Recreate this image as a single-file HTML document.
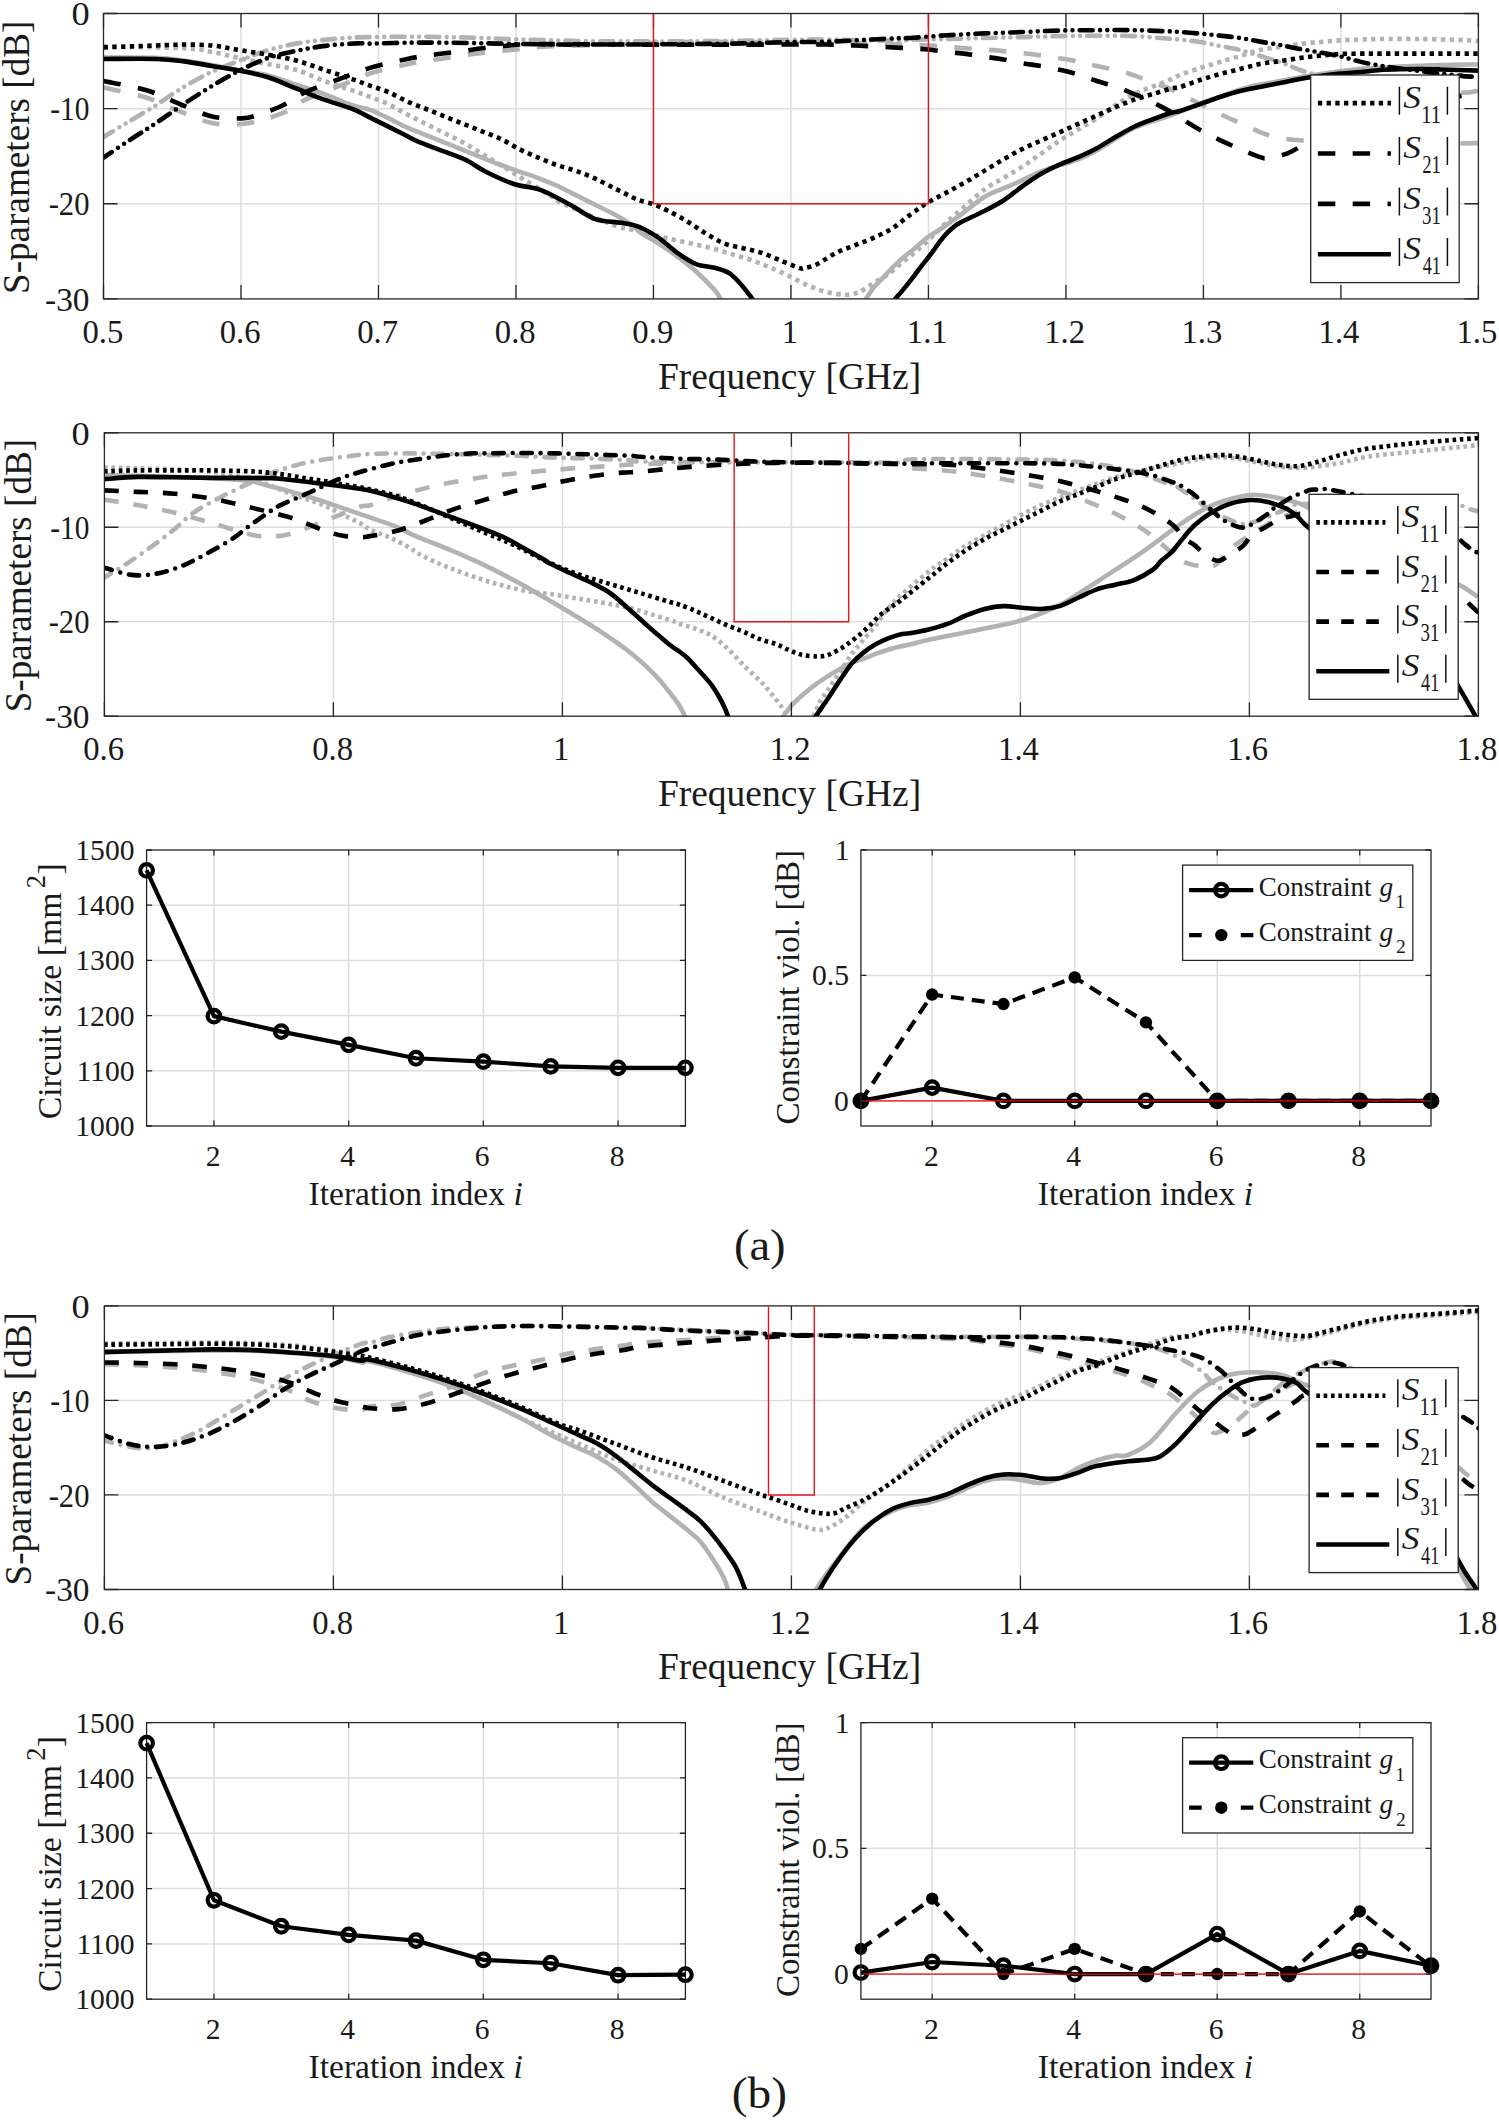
<!DOCTYPE html><html><head><meta charset="utf-8"><style>html,body{margin:0;padding:0;background:#fff;width:1499px;height:2120px;overflow:hidden}text{font-family:'Liberation Serif', serif}</style></head><body><svg width="1499" height="2120" viewBox="0 0 1499 2120" style="position:absolute;left:0;top:0;font-family:'Liberation Serif', serif">
<rect width="1499" height="2120" fill="#fff"/>
<defs>
<clipPath id="cp1"><rect x="103.5" y="13.5" width="1374.9" height="285.4"/></clipPath>
<clipPath id="cp2"><rect x="104.4" y="432.8" width="1374.0" height="283.40000000000003"/></clipPath>
<clipPath id="cp3"><rect x="146.6" y="850.0" width="538.8" height="276.0"/></clipPath>
<clipPath id="cp4"><rect x="860.9" y="850.0" width="570.1" height="276.0"/></clipPath>
<clipPath id="cp5"><rect x="104.4" y="1305.9" width="1374.0" height="283.5999999999999"/></clipPath>
<clipPath id="cp6"><rect x="146.6" y="1722.6" width="538.8" height="276.60000000000014"/></clipPath>
<clipPath id="cp7"><rect x="860.9" y="1722.6" width="570.1" height="276.60000000000014"/></clipPath>
</defs>
<path d="M240.99,13.50V298.90M378.48,13.50V298.90M515.97,13.50V298.90M653.46,13.50V298.90M790.95,13.50V298.90M928.44,13.50V298.90M1065.93,13.50V298.90M1203.42,13.50V298.90M1340.91,13.50V298.90M103.50,203.77H1478.40M103.50,108.63H1478.40" stroke="#dddddd" stroke-width="1.5" fill="none"/>
<path d="M103.74,57.63C112.45,57.66 142.65,57.35 156.03,57.81C169.42,58.28 174.71,59.22 184.05,60.43C193.39,61.64 202.73,63.39 212.07,65.10C221.40,66.81 230.74,68.99 240.08,70.70C249.42,72.41 258.76,73.04 268.10,75.37C277.44,77.71 286.78,81.60 296.12,84.71C305.45,87.82 314.79,90.63 324.13,94.05C333.47,97.47 344.50,102.61 352.15,105.26C359.79,107.90 363.91,107.75 370.00,109.93C376.09,112.10 382.45,115.37 388.68,118.33C394.90,121.29 401.13,124.87 407.36,127.67C413.58,130.47 419.81,132.65 426.03,135.14C432.26,137.63 438.48,140.12 444.71,142.61C450.94,145.10 457.16,147.59 463.39,150.08C469.61,152.57 475.84,155.06 482.07,157.55C488.29,160.04 494.52,162.69 500.74,165.02C506.97,167.36 513.20,169.38 519.42,171.56C525.65,173.74 531.87,175.76 538.10,178.10C544.32,180.43 550.55,182.77 556.78,185.57C563.00,188.37 569.23,191.80 575.45,194.91C581.68,198.02 587.91,201.13 594.13,204.25C600.36,207.36 606.58,210.16 612.81,213.59C619.03,217.01 626.95,221.68 631.49,224.79C636.02,227.91 635.47,229.15 640.00,232.26C644.53,235.38 652.45,239.42 658.68,243.47C664.90,247.52 671.13,251.88 677.36,256.54C683.58,261.21 689.81,265.88 696.03,271.49C702.26,277.09 710.66,285.65 714.71,290.16C718.76,294.68 718.45,295.46 720.31,298.57C722.18,301.68 724.98,307.13 725.92,308.84" stroke="#b2b2b2" stroke-width="4.6" fill="none" stroke-linecap="butt" stroke-linejoin="round" clip-path="url(#cp1)"/>
<path d="M856.66,308.84C858.22,307.15 863.23,302.17 866.00,298.70C868.77,295.23 870.42,291.55 873.30,288.00C876.18,284.45 879.95,280.95 883.30,277.40C886.65,273.85 890.05,270.03 893.40,266.70C896.75,263.37 900.07,260.28 903.40,257.40C906.73,254.52 909.52,252.63 913.40,249.40C917.28,246.17 922.27,241.33 926.70,238.00C931.13,234.67 935.55,232.40 940.00,229.40C944.45,226.40 950.07,222.35 953.40,220.00C956.73,217.65 954.78,219.17 960.00,215.30C965.22,211.43 977.48,201.26 984.71,196.78C991.94,192.29 997.16,191.11 1003.39,188.37C1009.61,185.63 1015.84,183.14 1022.07,180.34C1028.29,177.54 1034.52,174.05 1040.74,171.56C1046.97,169.07 1053.20,167.42 1059.42,165.40C1065.65,163.37 1071.87,161.91 1078.10,159.42C1084.32,156.93 1087.44,155.69 1096.78,150.46C1106.12,145.23 1121.68,133.96 1134.13,128.04C1146.58,122.13 1153.84,121.37 1171.49,114.97C1189.14,108.57 1221.94,95.30 1240.04,89.65C1258.13,83.99 1266.72,83.64 1280.06,81.04C1293.40,78.44 1306.74,76.04 1320.08,74.04C1333.43,72.04 1346.77,70.27 1360.11,69.04C1373.45,67.80 1386.79,67.30 1400.13,66.63C1413.47,65.97 1426.98,65.40 1440.16,65.03C1453.33,64.67 1472.68,64.53 1479.18,64.43" stroke="#b2b2b2" stroke-width="4.6" fill="none" stroke-linecap="butt" stroke-linejoin="round" clip-path="url(#cp1)"/>
<path d="M101.87,137.94C106.23,135.30 118.99,127.51 128.02,122.07C137.04,116.62 147.63,110.55 156.03,105.26C164.44,99.96 169.73,95.61 178.45,90.31C187.16,85.02 198.06,78.48 208.33,73.50C218.60,68.52 230.12,64.32 240.08,60.43C250.04,56.54 258.76,52.96 268.10,50.16C277.44,47.36 286.78,45.33 296.12,43.62C305.45,41.91 314.79,40.88 324.13,39.88C333.47,38.89 344.50,38.11 352.15,37.64C359.79,37.18 360.80,37.24 370.00,37.08C379.20,36.93 394.90,36.71 407.36,36.71C419.81,36.71 432.26,36.86 444.71,37.08C457.16,37.30 469.61,37.61 482.07,38.02C494.52,38.42 506.97,39.11 519.42,39.51C531.87,39.92 544.32,40.16 556.78,40.44C569.23,40.72 581.68,41.04 594.13,41.19C606.58,41.35 617.62,41.35 631.49,41.38C645.36,41.41 660.37,41.47 677.36,41.38C694.34,41.29 714.71,41.07 733.39,40.82C752.07,40.57 773.86,40.10 789.42,39.88C804.99,39.67 814.32,39.45 826.78,39.51C839.23,39.57 851.68,40.04 864.13,40.26C876.58,40.48 893.84,40.88 901.49,40.82C909.13,40.76 902.36,40.20 910.00,39.88C917.64,39.57 934.90,39.26 947.36,38.95C959.81,38.64 972.26,38.33 984.71,38.02C997.16,37.71 1009.61,37.39 1022.07,37.08C1034.52,36.77 1046.97,36.37 1059.42,36.15C1071.87,35.93 1084.32,35.78 1096.78,35.78C1109.23,35.78 1121.68,35.62 1134.13,36.15C1146.58,36.68 1163.84,38.37 1171.49,38.95C1179.13,39.53 1175.25,39.11 1180.00,39.62C1184.75,40.13 1193.34,40.95 1200.01,42.02C1206.68,43.09 1213.35,44.69 1220.02,46.02C1226.69,47.36 1233.37,48.36 1240.04,50.02C1246.71,51.69 1253.38,54.03 1260.05,56.03C1266.72,58.03 1273.39,59.70 1280.06,62.03C1286.73,64.37 1293.40,67.70 1300.07,70.04C1306.74,72.37 1313.41,74.04 1320.08,76.04C1326.75,78.04 1333.43,80.21 1340.10,82.04C1346.77,83.88 1353.44,85.71 1360.11,87.05C1366.78,88.38 1373.45,89.21 1380.12,90.05C1386.79,90.88 1386.53,91.62 1400.13,92.05C1413.74,92.48 1448.70,92.85 1461.75,92.62C1474.79,92.38 1475.63,90.97 1478.41,90.63" stroke="#b2b2b2" stroke-width="4.6" fill="none" stroke-linecap="round" stroke-linejoin="round" stroke-dasharray="13.00 7.40 0.00 7.20 0.00 7.20" clip-path="url(#cp1)"/>
<path d="M103.74,87.51C110.90,89.22 134.24,93.89 146.69,97.78C159.15,101.68 167.55,106.66 178.45,110.86C189.34,115.06 201.48,120.82 212.07,123.00C222.65,125.18 232.61,124.71 241.95,123.93C251.29,123.16 259.07,121.13 268.10,118.33C277.13,115.53 289.89,110.24 296.12,107.12C302.34,104.01 297.67,103.39 305.45,99.65C313.24,95.92 332.05,89.07 342.81,84.71C353.57,80.35 359.24,76.93 370.00,73.50C380.76,70.08 394.90,66.72 407.36,64.17C419.81,61.61 432.26,60.06 444.71,58.19C457.16,56.32 469.61,54.45 482.07,52.96C494.52,51.46 508.53,50.31 519.42,49.22C530.32,48.13 534.99,47.11 547.44,46.42C559.89,45.74 580.12,45.58 594.13,45.11C608.14,44.65 617.62,44.12 631.49,43.62C645.36,43.12 660.37,42.44 677.36,42.13C694.34,41.81 714.71,41.66 733.39,41.75C752.07,41.85 773.86,42.37 789.42,42.69C804.99,43.00 814.32,43.53 826.78,43.62C839.23,43.71 851.68,43.09 864.13,43.25C876.58,43.40 890.73,44.18 901.49,44.55C912.24,44.93 917.92,44.86 928.68,45.49C939.44,46.11 953.58,47.36 966.03,48.29C978.48,49.22 990.94,49.91 1003.39,51.09C1015.84,52.27 1028.29,53.67 1040.74,55.39C1053.20,57.10 1068.76,59.59 1078.10,61.36C1087.44,63.14 1090.55,64.63 1096.78,66.03C1103.00,67.43 1109.23,68.21 1115.45,69.77C1121.68,71.32 1127.91,73.19 1134.13,75.37C1140.36,77.55 1146.58,80.51 1152.81,82.84C1159.03,85.18 1163.62,85.84 1171.49,89.38C1179.35,92.92 1191.92,99.94 1200.01,104.06C1208.10,108.17 1213.35,110.89 1220.02,114.06C1226.69,117.23 1233.37,120.07 1240.04,123.07C1246.71,126.07 1254.04,129.74 1260.05,132.07C1266.05,134.41 1270.05,135.74 1276.06,137.08C1282.06,138.41 1288.73,139.41 1296.07,140.08C1303.41,140.75 1309.41,140.75 1320.08,141.08C1330.76,141.41 1346.77,141.75 1360.11,142.08C1373.45,142.41 1386.79,142.81 1400.13,143.08C1413.47,143.35 1426.98,143.68 1440.16,143.68C1453.33,143.68 1472.68,143.18 1479.18,143.08" stroke="#b2b2b2" stroke-width="4.6" fill="none" stroke-linecap="butt" stroke-linejoin="round" stroke-dasharray="17.40 17.40" clip-path="url(#cp1)"/>
<path d="M103.74,46.42C117.12,46.73 165.99,47.36 184.05,48.29C202.10,49.22 202.73,50.37 212.07,52.02C221.40,53.67 230.74,56.16 240.08,58.19C249.42,60.21 258.76,62.24 268.10,64.17C277.44,66.10 286.78,66.97 296.12,69.77C305.45,72.57 314.79,77.55 324.13,80.97C333.47,84.40 344.50,87.67 352.15,90.31C359.79,92.96 363.91,94.52 370.00,96.85C376.09,99.19 382.45,101.36 388.68,104.32C394.90,107.28 401.13,111.33 407.36,114.59C413.58,117.86 419.81,120.82 426.03,123.93C432.26,127.05 438.48,130.16 444.71,133.27C450.94,136.39 457.16,139.19 463.39,142.61C469.61,146.04 475.84,150.08 482.07,153.82C488.29,157.55 493.89,160.82 500.74,165.02C507.59,169.23 515.06,174.05 523.16,179.03C531.25,184.01 542.46,190.71 549.31,194.91C556.15,199.11 553.66,199.27 564.25,204.25C574.83,209.23 601.60,220.59 612.81,224.79C624.02,229.00 623.84,227.59 631.49,229.46C639.13,231.33 651.03,234.13 658.68,236.00C666.32,237.87 671.13,239.27 677.36,240.67C683.58,242.07 689.81,243.00 696.03,244.40C702.26,245.81 708.48,247.36 714.71,249.07C720.94,250.79 727.16,252.81 733.39,254.68C739.61,256.54 745.84,258.10 752.07,260.28C758.29,262.46 764.52,265.11 770.74,267.75C776.97,270.40 783.20,273.20 789.42,276.16C795.65,279.11 801.87,282.85 808.10,285.49C814.32,288.14 820.55,290.48 826.78,292.03C833.00,293.59 840.47,294.68 845.45,294.83C850.43,294.99 854.24,293.44 856.66,292.97C859.08,292.49 858.11,293.04 860.00,292.00C861.89,290.96 865.45,288.37 868.00,286.70C870.55,285.03 871.73,284.22 875.30,282.00C878.87,279.78 884.83,276.73 889.40,273.40C893.97,270.07 898.27,265.67 902.70,262.00C907.13,258.33 911.55,255.17 916.00,251.40C920.45,247.63 924.28,244.30 929.40,239.40C934.52,234.50 942.48,226.02 946.70,222.00C950.92,217.98 948.36,220.75 954.70,215.30C961.04,209.85 976.60,195.51 984.71,189.31C992.83,183.10 997.16,181.83 1003.39,178.10C1009.61,174.36 1015.84,170.94 1022.07,166.89C1028.29,162.85 1034.52,158.18 1040.74,153.82C1046.97,149.46 1053.20,144.79 1059.42,140.74C1065.65,136.70 1071.87,133.27 1078.10,129.54C1084.32,125.80 1090.55,122.38 1096.78,118.33C1103.00,114.28 1109.23,109.30 1115.45,105.26C1121.68,101.21 1127.91,97.16 1134.13,94.05C1140.36,90.94 1146.58,89.07 1152.81,86.58C1159.03,84.09 1166.95,81.03 1171.49,79.11C1176.02,77.18 1175.25,76.88 1180.00,75.04C1184.75,73.19 1193.34,70.20 1200.01,68.03C1206.68,65.87 1213.35,64.03 1220.02,62.03C1226.69,60.03 1233.37,58.03 1240.04,56.03C1246.71,54.03 1253.38,51.52 1260.05,50.02C1266.72,48.52 1273.39,48.02 1280.06,47.02C1286.73,46.02 1293.40,44.85 1300.07,44.02C1306.74,43.19 1313.41,42.62 1320.08,42.02C1326.75,41.42 1333.43,40.82 1340.10,40.42C1346.77,40.02 1353.44,39.85 1360.11,39.62C1366.78,39.38 1370.11,39.12 1380.12,39.02C1390.13,38.92 1406.80,38.85 1420.14,39.02C1433.49,39.18 1450.33,39.68 1460.17,40.02C1470.01,40.35 1476.01,40.85 1479.18,41.02" stroke="#b2b2b2" stroke-width="4.6" fill="none" stroke-linecap="butt" stroke-linejoin="round" stroke-dasharray="4.30 4.40" clip-path="url(#cp1)"/>
<path d="M103.74,58.94C112.45,58.94 142.65,58.53 156.03,58.94C169.42,59.34 174.71,60.18 184.05,61.36C193.39,62.55 202.73,64.48 212.07,66.03C221.40,67.59 230.74,68.83 240.08,70.70C249.42,72.57 258.76,74.28 268.10,77.24C277.44,80.20 286.78,84.71 296.12,88.45C305.45,92.18 314.79,96.23 324.13,99.65C333.47,103.08 343.64,105.58 352.15,108.99C360.66,112.40 366.46,115.80 375.20,120.10C383.94,124.40 397.25,131.13 404.60,134.80C411.95,138.47 411.97,139.05 419.30,142.10C426.63,145.15 440.65,150.03 448.60,153.10C456.55,156.17 460.88,157.43 467.00,160.50C473.12,163.57 477.35,167.53 485.30,171.50C493.25,175.47 505.52,181.25 514.70,184.30C523.88,187.35 531.23,186.43 540.40,189.80C549.57,193.17 560.53,199.60 569.70,204.50C578.87,209.40 586.83,216.15 595.40,219.20C603.97,222.25 613.72,221.49 621.10,222.80C628.48,224.11 633.44,224.54 639.70,227.05C645.96,229.56 652.40,233.57 658.68,237.87C664.95,242.16 671.13,248.45 677.36,252.81C683.58,257.17 689.81,261.53 696.03,264.02C702.26,266.51 709.11,266.19 714.71,267.75C720.31,269.31 724.98,270.24 729.65,273.35C734.32,276.47 738.99,282.23 742.73,286.43C746.46,290.63 749.26,294.83 752.07,298.57C754.87,302.30 758.29,307.13 759.54,308.84" stroke="#000000" stroke-width="4.6" fill="none" stroke-linecap="butt" stroke-linejoin="round" clip-path="url(#cp1)"/>
<path d="M886.54,308.84C888.12,307.03 893.19,301.24 896.00,298.00C898.81,294.76 900.73,292.62 903.40,289.40C906.07,286.18 909.23,282.27 912.00,278.70C914.77,275.13 917.55,271.22 920.00,268.00C922.45,264.78 924.47,262.28 926.70,259.40C928.93,256.52 931.18,253.70 933.40,250.70C935.62,247.70 937.78,244.28 940.00,241.40C942.22,238.52 944.47,235.73 946.70,233.40C948.93,231.07 951.18,229.18 953.40,227.40C955.62,225.62 954.78,225.47 960.00,222.70C965.22,219.93 977.48,214.48 984.71,210.78C991.94,207.09 997.16,204.56 1003.39,200.51C1009.61,196.46 1015.84,190.92 1022.07,186.50C1028.29,182.08 1034.52,177.63 1040.74,173.99C1046.97,170.35 1053.20,167.45 1059.42,164.65C1065.65,161.85 1071.87,159.92 1078.10,157.18C1084.32,154.44 1090.55,151.58 1096.78,148.21C1103.00,144.85 1109.23,140.59 1115.45,137.01C1121.68,133.43 1127.91,129.69 1134.13,126.74C1140.36,123.78 1146.58,121.60 1152.81,119.26C1159.03,116.93 1166.95,114.09 1171.49,112.73C1176.02,111.36 1175.25,112.51 1180.00,111.06C1184.75,109.62 1193.34,106.39 1200.01,104.06C1206.68,101.72 1213.35,99.22 1220.02,97.05C1226.69,94.88 1233.37,92.72 1240.04,91.05C1246.71,89.38 1253.38,88.38 1260.05,87.05C1266.72,85.71 1273.39,84.38 1280.06,83.04C1286.73,81.71 1293.40,80.21 1300.07,79.04C1306.74,77.87 1313.41,76.94 1320.08,76.04C1326.75,75.14 1333.43,74.31 1340.10,73.64C1346.77,72.97 1353.44,72.64 1360.11,72.04C1366.78,71.44 1373.45,70.50 1380.12,70.04C1386.79,69.57 1393.46,69.40 1400.13,69.24C1406.80,69.07 1413.47,69.00 1420.14,69.04C1426.81,69.07 1430.32,69.17 1440.16,69.44C1450.00,69.70 1472.68,70.44 1479.18,70.64" stroke="#000000" stroke-width="4.6" fill="none" stroke-linecap="butt" stroke-linejoin="round" clip-path="url(#cp1)"/>
<path d="M101.00,159.20C105.73,156.05 120.40,146.20 129.40,140.30C138.40,134.40 146.45,129.50 155.00,123.80C163.55,118.10 171.52,112.22 180.70,106.10C189.88,99.98 200.32,93.02 210.10,87.10C219.88,81.18 229.62,75.50 239.40,70.60C249.18,65.70 259.00,61.07 268.80,57.70C278.60,54.33 288.42,52.42 298.20,50.40C307.98,48.38 317.72,46.77 327.50,45.60C337.28,44.43 349.82,43.73 356.90,43.40C363.98,43.07 361.59,43.74 370.00,43.62C378.41,43.50 394.90,42.84 407.36,42.69C419.81,42.53 432.26,42.59 444.71,42.69C457.16,42.78 469.61,43.03 482.07,43.25C494.52,43.46 506.97,43.78 519.42,43.99C531.87,44.21 544.32,44.46 556.78,44.55C569.23,44.65 581.68,44.55 594.13,44.55C606.58,44.55 617.62,44.62 631.49,44.55C645.36,44.49 660.37,44.34 677.36,44.18C694.34,44.02 714.71,43.96 733.39,43.62C752.07,43.28 773.86,42.44 789.42,42.13C804.99,41.81 814.32,42.13 826.78,41.75C839.23,41.38 851.68,40.51 864.13,39.88C876.58,39.26 893.84,38.33 901.49,38.02C909.13,37.71 902.36,38.48 910.00,38.02C917.64,37.55 934.90,35.99 947.36,35.21C959.81,34.44 972.26,33.88 984.71,33.35C997.16,32.82 1009.61,32.51 1022.07,32.04C1034.52,31.57 1046.97,30.86 1059.42,30.55C1071.87,30.23 1084.32,30.23 1096.78,30.17C1109.23,30.11 1121.68,29.95 1134.13,30.17C1146.58,30.39 1163.84,31.17 1171.49,31.48C1179.13,31.79 1175.25,31.66 1180.00,32.01C1184.75,32.37 1193.34,33.01 1200.01,33.61C1206.68,34.21 1213.35,34.88 1220.02,35.62C1226.69,36.35 1233.37,37.02 1240.04,38.02C1246.71,39.02 1253.38,40.45 1260.05,41.62C1266.72,42.79 1273.39,43.79 1280.06,45.02C1286.73,46.26 1293.40,47.79 1300.07,49.02C1306.74,50.26 1313.41,51.19 1320.08,52.43C1326.75,53.66 1333.43,54.89 1340.10,56.43C1346.77,57.96 1353.44,60.10 1360.11,61.63C1366.78,63.17 1373.45,64.50 1380.12,65.63C1386.79,66.77 1393.46,67.53 1400.13,68.44C1406.80,69.34 1413.47,70.17 1420.14,71.04C1426.81,71.90 1433.49,72.87 1440.16,73.64C1446.83,74.41 1456.11,75.19 1460.17,75.64C1464.23,76.09 1461.48,76.16 1464.52,76.35C1467.56,76.53 1476.10,76.68 1478.41,76.75" stroke="#000000" stroke-width="4.6" fill="none" stroke-linecap="round" stroke-linejoin="round" stroke-dasharray="13.00 7.40 0.00 7.20 0.00 7.20" clip-path="url(#cp1)"/>
<path d="M103.74,80.97C110.90,82.53 134.24,86.58 146.69,90.31C159.15,94.05 167.55,99.03 178.45,103.39C189.34,107.75 201.48,113.97 212.07,116.46C222.65,118.95 234.17,118.64 241.95,118.33C249.73,118.02 251.91,116.77 258.76,114.59C265.61,112.42 275.26,108.99 283.04,105.26C290.82,101.52 296.12,96.54 305.45,92.18C314.79,87.82 328.32,83.15 339.07,79.11C349.83,75.06 358.62,71.26 370.00,67.90C381.38,64.54 398.02,60.96 407.36,58.94C416.69,56.91 419.81,56.69 426.03,55.76C432.26,54.83 438.48,54.11 444.71,53.33C450.94,52.55 457.16,51.93 463.39,51.09C469.61,50.25 475.84,49.07 482.07,48.29C488.29,47.51 494.52,47.04 500.74,46.42C506.97,45.80 513.20,44.93 519.42,44.55C525.65,44.18 531.87,44.24 538.10,44.18C544.32,44.12 547.44,44.15 556.78,44.18C566.12,44.21 581.68,44.30 594.13,44.37C606.58,44.43 617.62,44.49 631.49,44.55C645.36,44.62 660.37,44.71 677.36,44.74C694.34,44.77 714.71,44.77 733.39,44.74C752.07,44.71 773.86,44.58 789.42,44.55C804.99,44.52 815.88,44.40 826.78,44.55C837.67,44.71 847.01,45.18 854.79,45.49C862.58,45.80 865.69,46.02 873.47,46.42C881.25,46.83 892.91,47.45 901.49,47.92C910.07,48.38 917.30,48.54 924.94,49.22C932.59,49.91 940.51,51.25 947.36,52.02C954.20,52.80 959.81,53.11 966.03,53.89C972.26,54.67 978.48,55.76 984.71,56.69C990.94,57.63 997.16,58.41 1003.39,59.50C1009.61,60.59 1015.84,62.14 1022.07,63.23C1028.29,64.32 1034.52,64.94 1040.74,66.03C1046.97,67.12 1053.20,68.37 1059.42,69.77C1065.65,71.17 1071.87,72.57 1078.10,74.44C1084.32,76.31 1090.55,78.95 1096.78,80.97C1103.00,83.00 1109.23,84.40 1115.45,86.58C1121.68,88.76 1129.46,92.18 1134.13,94.05C1138.80,95.92 1138.80,95.61 1143.47,97.78C1148.14,99.96 1156.86,104.32 1162.15,107.12C1167.44,109.93 1170.58,111.77 1175.22,114.59C1179.87,117.42 1185.21,121.16 1190.01,124.07C1194.80,126.98 1199.01,129.40 1204.01,132.07C1209.02,134.74 1214.02,137.24 1220.02,140.08C1226.03,142.91 1233.37,146.25 1240.04,149.08C1246.71,151.92 1255.38,155.59 1260.05,157.09C1264.72,158.59 1263.38,158.76 1268.05,158.09C1272.72,157.42 1282.06,155.42 1288.06,153.09C1294.07,150.75 1298.74,147.25 1304.07,144.08C1309.41,140.91 1314.08,137.41 1320.08,134.07C1326.09,130.74 1333.43,127.07 1340.10,124.07C1346.77,121.07 1353.44,118.40 1360.11,116.06C1366.78,113.73 1373.45,111.73 1380.12,110.06C1386.79,108.39 1393.46,107.06 1400.13,106.06C1406.80,105.06 1410.27,105.70 1420.14,104.06C1430.02,102.41 1451.11,97.77 1459.37,96.19C1467.62,94.61 1466.51,95.07 1469.68,94.60C1472.86,94.14 1476.96,93.61 1478.41,93.41" stroke="#000000" stroke-width="4.6" fill="none" stroke-linecap="butt" stroke-linejoin="round" stroke-dasharray="17.40 17.40" clip-path="url(#cp1)"/>
<path d="M103.74,47.36C112.45,47.04 142.65,45.95 156.03,45.49C169.42,45.02 174.71,44.55 184.05,44.55C193.39,44.55 203.66,44.71 212.07,45.49C220.47,46.27 225.14,47.67 234.48,49.22C243.82,50.78 257.83,52.96 268.10,54.83C278.37,56.69 286.78,57.94 296.12,60.43C305.45,62.92 314.79,66.66 324.13,69.77C333.47,72.88 344.50,76.46 352.15,79.11C359.79,81.75 363.91,83.47 370.00,85.64C376.09,87.82 382.45,89.54 388.68,92.18C394.90,94.83 401.13,98.72 407.36,101.52C413.58,104.32 419.81,106.50 426.03,108.99C432.26,111.48 438.48,113.97 444.71,116.46C450.94,118.95 457.16,121.44 463.39,123.93C469.61,126.42 475.84,128.91 482.07,131.40C488.29,133.89 494.52,135.92 500.74,138.88C506.97,141.83 513.20,146.04 519.42,149.15C525.65,152.26 531.87,154.91 538.10,157.55C544.32,160.20 550.55,162.85 556.78,165.02C563.00,167.20 569.23,168.45 575.45,170.63C581.68,172.81 587.91,175.30 594.13,178.10C600.36,180.90 606.58,184.32 612.81,187.44C619.03,190.55 626.95,194.60 631.49,196.78C636.02,198.96 636.34,199.27 640.00,200.51C643.66,201.76 648.78,202.54 653.45,204.25C658.12,205.96 662.48,207.98 668.02,210.78C673.56,213.59 680.47,217.32 686.69,221.06C692.92,224.79 699.15,229.46 705.37,233.20C711.60,236.93 717.82,240.98 724.05,243.47C730.28,245.96 736.50,246.58 742.73,248.14C748.95,249.70 755.18,250.79 761.40,252.81C767.63,254.83 773.86,257.79 780.08,260.28C786.31,262.77 794.71,266.44 798.76,267.75C802.81,269.06 801.25,268.75 804.36,268.12C807.48,267.50 812.15,266.57 817.44,264.02C822.73,261.46 829.89,255.92 836.12,252.81C842.34,249.70 848.57,247.83 854.79,245.34C861.02,242.85 867.24,240.67 873.47,237.87C879.70,235.07 885.99,232.42 892.15,228.53C898.31,224.64 904.39,218.88 910.41,214.52C916.44,210.16 922.15,206.12 928.30,202.38C934.46,198.64 941.07,195.53 947.36,192.11C953.64,188.68 959.81,185.41 966.03,181.83C972.26,178.25 978.48,174.36 984.71,170.63C990.94,166.89 997.16,163.00 1003.39,159.42C1009.61,155.84 1015.84,152.26 1022.07,149.15C1028.29,146.04 1034.52,143.55 1040.74,140.74C1046.97,137.94 1053.20,135.14 1059.42,132.34C1065.65,129.54 1071.87,126.74 1078.10,123.93C1084.32,121.13 1090.55,118.33 1096.78,115.53C1103.00,112.73 1109.23,109.77 1115.45,107.12C1121.68,104.48 1127.91,101.83 1134.13,99.65C1140.36,97.47 1146.58,95.92 1152.81,94.05C1159.03,92.18 1166.95,89.61 1171.49,88.45C1176.02,87.28 1175.25,88.45 1180.00,87.05C1184.75,85.65 1193.34,82.21 1200.01,80.04C1206.68,77.87 1213.35,75.87 1220.02,74.04C1226.69,72.20 1233.37,70.70 1240.04,69.04C1246.71,67.37 1253.38,65.37 1260.05,64.03C1266.72,62.70 1273.39,62.03 1280.06,61.03C1286.73,60.03 1293.40,58.93 1300.07,58.03C1306.74,57.13 1313.41,56.29 1320.08,55.63C1326.75,54.96 1333.43,54.36 1340.10,54.03C1346.77,53.69 1353.44,53.69 1360.11,53.63C1366.78,53.56 1370.11,53.63 1380.12,53.63C1390.13,53.63 1403.63,53.63 1420.14,53.63C1436.65,53.63 1469.34,53.63 1479.18,53.63" stroke="#000000" stroke-width="4.6" fill="none" stroke-linecap="butt" stroke-linejoin="round" stroke-dasharray="4.30 4.40" clip-path="url(#cp1)"/>
<path d="M103.50,298.90v-14M103.50,13.50v14M240.99,298.90v-14M240.99,13.50v14M378.48,298.90v-14M378.48,13.50v14M515.97,298.90v-14M515.97,13.50v14M653.46,298.90v-14M653.46,13.50v14M790.95,298.90v-14M790.95,13.50v14M928.44,298.90v-14M928.44,13.50v14M1065.93,298.90v-14M1065.93,13.50v14M1203.42,298.90v-14M1203.42,13.50v14M1340.91,298.90v-14M1340.91,13.50v14M1478.40,298.90v-14M1478.40,13.50v14M103.50,298.90h14M1478.40,298.90h-14M103.50,203.77h14M1478.40,203.77h-14M103.50,108.63h14M1478.40,108.63h-14M103.50,13.50h14M1478.40,13.50h-14" stroke="#262626" stroke-width="1.3" fill="none"/>
<rect x="103.50" y="13.50" width="1374.90" height="285.40" stroke="#262626" stroke-width="1.3" fill="none"/>
<path d="M653.46,14.20V203.77H928.44V14.20" stroke="#e8131b" stroke-width="1.4" fill="none"/>
<text x="45.05" y="310.60" font-size="34.6" style="" fill="#1a1a1a" textLength="44.52" lengthAdjust="spacingAndGlyphs">-30</text>
<text x="48.65" y="215.47" font-size="34.6" style="" fill="#1a1a1a" textLength="40.81" lengthAdjust="spacingAndGlyphs">-20</text>
<text x="50.20" y="120.33" font-size="34.6" style="" fill="#1a1a1a" textLength="39.22" lengthAdjust="spacingAndGlyphs">-10</text>
<text x="71.43" y="25.20" font-size="34.6" style="" fill="#1a1a1a" textLength="18.24" lengthAdjust="spacingAndGlyphs">0</text>
<text x="82.41" y="343.10" font-size="34.6" style="" fill="#1a1a1a" textLength="40.87" lengthAdjust="spacingAndGlyphs">0.5</text>
<text x="219.73" y="343.10" font-size="34.6" style="" fill="#1a1a1a" textLength="40.87" lengthAdjust="spacingAndGlyphs">0.6</text>
<text x="357.22" y="343.10" font-size="34.6" style="" fill="#1a1a1a" textLength="40.87" lengthAdjust="spacingAndGlyphs">0.7</text>
<text x="494.83" y="343.10" font-size="34.6" style="" fill="#1a1a1a" textLength="40.87" lengthAdjust="spacingAndGlyphs">0.8</text>
<text x="632.37" y="343.10" font-size="34.6" style="" fill="#1a1a1a" textLength="40.87" lengthAdjust="spacingAndGlyphs">0.9</text>
<text x="781.63" y="343.10" font-size="34.6" style="" fill="#1a1a1a" textLength="16.35" lengthAdjust="spacingAndGlyphs">1</text>
<text x="906.85" y="343.10" font-size="34.6" style="" fill="#1a1a1a" textLength="40.87" lengthAdjust="spacingAndGlyphs">1.1</text>
<text x="1044.26" y="343.10" font-size="34.6" style="" fill="#1a1a1a" textLength="40.87" lengthAdjust="spacingAndGlyphs">1.2</text>
<text x="1181.51" y="343.10" font-size="34.6" style="" fill="#1a1a1a" textLength="40.87" lengthAdjust="spacingAndGlyphs">1.3</text>
<text x="1318.59" y="343.10" font-size="34.6" style="" fill="#1a1a1a" textLength="40.87" lengthAdjust="spacingAndGlyphs">1.4</text>
<text x="1456.49" y="343.10" font-size="34.6" style="" fill="#1a1a1a" textLength="40.87" lengthAdjust="spacingAndGlyphs">1.5</text>
<text x="657.88" y="388.50" font-size="38.5" style="" fill="#1a1a1a" textLength="263.34" lengthAdjust="spacingAndGlyphs">Frequency [GHz]</text>
<text transform="translate(29.00,157.40) rotate(-90)" x="-136.61" y="0" font-size="38.5" style="" fill="#1a1a1a" textLength="273.44" lengthAdjust="spacingAndGlyphs">S-parameters [dB]</text>
<rect x="1310.7" y="75.0" width="148.50" height="207.60" fill="#fff" stroke="#262626" stroke-width="1.3"/>
<path d="M1317.90,103.10L1390.90,103.10" stroke="#000000" stroke-width="4.6" fill="none" stroke-linecap="butt" stroke-linejoin="round" stroke-dasharray="4.30 4.40"/>
<path d="M1399.40,86.70v28M1447.40,86.70v28" stroke="#111" stroke-width="1.5"/>
<text x="1403.26" y="107.80" font-size="31" style="font-style:italic;" fill="#1a1a1a" textLength="17.66" lengthAdjust="spacingAndGlyphs">S</text>
<text x="1421.20" y="122.70" font-size="24.8" style="" fill="#1a1a1a" textLength="19.85" lengthAdjust="spacingAndGlyphs">11</text>
<path d="M1317.90,153.50L1390.90,153.50" stroke="#000000" stroke-width="4.6" fill="none" stroke-linecap="butt" stroke-linejoin="round" stroke-dasharray="17.40 17.40"/>
<path d="M1399.40,137.10v28M1447.40,137.10v28" stroke="#111" stroke-width="1.5"/>
<text x="1403.26" y="158.20" font-size="31" style="font-style:italic;" fill="#1a1a1a" textLength="17.66" lengthAdjust="spacingAndGlyphs">S</text>
<text x="1422.16" y="173.10" font-size="24.8" style="" fill="#1a1a1a" textLength="18.77" lengthAdjust="spacingAndGlyphs">21</text>
<path d="M1317.90,203.90L1390.90,203.90" stroke="#000000" stroke-width="4.6" fill="none" stroke-linecap="butt" stroke-linejoin="round" stroke-dasharray="17.40 17.40"/>
<path d="M1399.40,187.50v28M1447.40,187.50v28" stroke="#111" stroke-width="1.5"/>
<text x="1403.26" y="208.60" font-size="31" style="font-style:italic;" fill="#1a1a1a" textLength="17.66" lengthAdjust="spacingAndGlyphs">S</text>
<text x="1422.11" y="223.50" font-size="24.8" style="" fill="#1a1a1a" textLength="18.82" lengthAdjust="spacingAndGlyphs">31</text>
<path d="M1317.90,254.30L1390.90,254.30" stroke="#000000" stroke-width="4.6" fill="none" stroke-linecap="butt" stroke-linejoin="round"/>
<path d="M1399.40,237.90v28M1447.40,237.90v28" stroke="#111" stroke-width="1.5"/>
<text x="1403.26" y="259.00" font-size="31" style="font-style:italic;" fill="#1a1a1a" textLength="17.66" lengthAdjust="spacingAndGlyphs">S</text>
<text x="1422.63" y="273.90" font-size="24.8" style="" fill="#1a1a1a" textLength="18.26" lengthAdjust="spacingAndGlyphs">41</text>
<path d="M333.40,432.80V716.20M562.40,432.80V716.20M791.40,432.80V716.20M1020.40,432.80V716.20M1249.40,432.80V716.20M104.40,621.73H1478.40M104.40,527.27H1478.40" stroke="#dddddd" stroke-width="1.5" fill="none"/>
<path d="M104.11,475.06C109.65,475.18 125.59,475.49 137.36,475.80C149.12,476.11 162.26,476.52 174.71,476.92C187.16,477.33 199.61,477.55 212.07,478.23C224.52,478.92 240.08,479.79 249.42,481.03C258.76,482.28 261.87,484.15 268.10,485.70C274.32,487.26 280.55,488.66 286.78,490.37C293.00,492.08 299.23,494.11 305.45,495.97C311.68,497.84 317.91,499.55 324.13,501.58C330.36,503.60 331.16,504.08 342.81,508.12C354.45,512.15 383.13,521.72 394.00,525.80C404.87,529.88 403.33,530.47 408.00,532.60C412.67,534.73 417.33,536.67 422.00,538.60C426.67,540.53 431.33,542.32 436.00,544.20C440.67,546.08 445.33,547.97 450.00,549.90C454.67,551.83 459.33,553.77 464.00,555.80C468.67,557.83 473.33,559.92 478.00,562.10C482.67,564.28 487.33,566.57 492.00,568.90C496.67,571.23 501.33,573.65 506.00,576.10C510.67,578.55 515.33,581.03 520.00,583.60C524.67,586.17 529.33,588.83 534.00,591.50C538.67,594.17 543.33,596.88 548.00,599.60C552.67,602.32 557.33,605.03 562.00,607.80C566.67,610.57 571.33,613.37 576.00,616.20C580.67,619.03 585.33,621.87 590.00,624.80C594.67,627.73 599.33,630.70 604.00,633.80C608.67,636.90 613.33,640.03 618.00,643.40C622.67,646.77 627.33,650.20 632.00,654.00C636.67,657.80 641.33,661.77 646.00,666.20C650.67,670.63 655.33,675.28 660.00,680.60C664.67,685.92 670.67,693.78 674.00,698.10C677.33,702.42 678.20,703.50 680.00,706.50C681.80,709.50 683.63,713.52 684.80,716.10C685.97,718.68 686.63,721.02 687.00,722.00" stroke="#b2b2b2" stroke-width="4.6" fill="none" stroke-linecap="butt" stroke-linejoin="round" clip-path="url(#cp2)"/>
<path d="M781.70,718.65C783.42,716.36 788.28,709.06 792.00,704.90C795.72,700.74 800.00,697.17 804.00,693.70C808.00,690.23 812.00,687.03 816.00,684.10C820.00,681.17 824.00,678.63 828.00,676.10C832.00,673.57 836.00,671.17 840.00,668.90C844.00,666.63 847.98,664.23 852.00,662.50C856.02,660.77 860.08,659.97 864.10,658.50C868.12,657.03 872.10,655.17 876.10,653.70C880.10,652.23 884.12,650.90 888.10,649.70C892.08,648.50 896.35,647.37 900.00,646.50C903.65,645.63 905.22,645.58 910.00,644.46C914.78,643.34 922.45,641.19 928.68,639.79C934.90,638.39 941.13,637.30 947.36,636.06C953.58,634.81 959.81,633.57 966.03,632.32C972.26,631.08 978.48,629.83 984.71,628.59C990.94,627.34 997.16,626.25 1003.39,624.85C1009.61,623.45 1015.84,622.05 1022.07,620.18C1028.29,618.31 1034.52,616.13 1040.74,613.64C1046.97,611.15 1053.20,608.51 1059.42,605.24C1065.65,601.97 1071.87,597.92 1078.10,594.03C1084.32,590.14 1090.55,585.94 1096.78,581.89C1103.00,577.85 1109.23,573.80 1115.45,569.75C1121.68,565.70 1127.91,561.81 1134.13,557.61C1140.36,553.41 1146.48,549.10 1152.81,544.54C1159.13,539.97 1164.99,535.27 1172.08,530.22C1179.18,525.16 1187.70,518.78 1195.36,514.23C1203.02,509.67 1208.97,506.10 1218.04,502.89C1227.11,499.67 1240.35,495.89 1249.80,494.95C1259.25,494.00 1266.81,495.89 1274.74,497.22C1282.68,498.54 1291.94,501.19 1297.43,502.89C1302.91,504.59 1298.87,502.90 1307.63,507.42C1316.39,511.94 1331.27,520.40 1350.00,530.00C1368.73,539.60 1401.87,555.91 1420.00,565.00C1438.13,574.09 1449.14,579.21 1458.80,584.52C1468.46,589.82 1474.75,594.78 1477.94,596.83" stroke="#b2b2b2" stroke-width="4.6" fill="none" stroke-linecap="butt" stroke-linejoin="round" clip-path="url(#cp2)"/>
<path d="M101.87,579.09C105.91,576.60 118.06,569.44 126.15,564.15C134.24,558.86 142.65,552.94 150.43,547.34C158.21,541.74 165.68,536.29 172.84,530.53C180.00,524.77 185.92,518.08 193.39,512.78C200.86,507.49 209.58,503.13 217.67,498.78C225.76,494.42 233.55,490.68 241.95,486.64C250.35,482.59 259.07,478.08 268.10,474.50C277.13,470.92 286.78,467.65 296.12,465.16C305.45,462.67 314.79,461.11 324.13,459.55C333.47,458.00 344.50,456.75 352.15,455.82C359.79,454.88 360.80,454.35 370.00,453.95C379.20,453.55 394.90,453.39 407.36,453.39C419.81,453.39 432.26,453.70 444.71,453.95C457.16,454.20 469.61,454.57 482.07,454.88C494.52,455.20 506.97,455.35 519.42,455.82C531.87,456.29 544.32,457.22 556.78,457.69C569.23,458.15 581.68,458.15 594.13,458.62C606.58,459.09 623.84,460.02 631.49,460.49C639.13,460.95 626.13,461.11 640.00,461.42C653.87,461.73 689.81,462.20 714.71,462.36C739.61,462.51 764.52,462.36 789.42,462.36C814.32,462.36 845.45,462.36 864.13,462.36C882.81,462.36 893.84,462.82 901.49,462.36C909.13,461.89 899.24,460.11 910.00,459.55C920.76,458.99 947.36,458.99 966.03,458.99C984.71,458.99 1006.50,459.30 1022.07,459.55C1037.63,459.80 1046.97,459.71 1059.42,460.49C1071.87,461.27 1084.32,462.36 1096.78,464.22C1109.23,466.09 1122.05,468.37 1134.13,471.69C1146.22,475.02 1163.05,482.31 1169.28,484.18C1175.50,486.04 1169.03,481.67 1171.49,482.90C1173.94,484.13 1180.61,489.26 1184.02,491.55C1187.43,493.84 1188.18,494.00 1191.96,496.65C1195.74,499.30 1201.22,503.93 1206.70,507.42C1212.18,510.92 1219.37,514.98 1224.85,517.63C1230.33,520.28 1235.53,522.36 1239.59,523.30C1243.65,524.25 1244.88,524.25 1249.23,523.30C1253.58,522.36 1261.89,518.95 1265.67,517.63C1269.45,516.31 1267.94,517.06 1271.91,515.36C1275.88,513.66 1283.91,509.31 1289.49,507.42C1295.06,505.53 1286.95,504.76 1305.36,504.02C1323.78,503.28 1377.56,502.67 1400.00,503.00C1422.44,503.33 1430.20,505.63 1440.00,506.00C1449.80,506.37 1454.07,504.77 1458.80,505.21C1463.53,505.65 1465.11,507.60 1468.37,508.63C1471.63,509.65 1476.69,510.91 1478.35,511.36" stroke="#b2b2b2" stroke-width="4.6" fill="none" stroke-linecap="round" stroke-linejoin="round" stroke-dasharray="10.40 8.80 0.00 8.80" clip-path="url(#cp2)"/>
<path d="M104.11,499.71C109.65,500.58 125.59,502.76 137.36,504.94C149.12,507.12 162.26,509.77 174.71,512.78C187.16,515.80 199.61,519.48 212.07,523.06C224.52,526.64 240.08,532.02 249.42,534.26C258.76,536.51 261.87,536.44 268.10,536.51C274.32,536.57 280.55,535.95 286.78,534.64C293.00,533.33 299.23,530.90 305.45,528.66C311.68,526.42 317.91,523.68 324.13,521.19C330.36,518.70 336.58,516.21 342.81,513.72C349.03,511.23 356.95,507.65 361.49,506.25C366.02,504.85 365.47,506.56 370.00,505.31C374.53,504.07 380.90,501.27 388.68,498.78C396.46,496.29 407.36,492.86 416.69,490.37C426.03,487.88 433.82,486.01 444.71,483.83C455.61,481.66 471.17,478.95 482.07,477.30C492.96,475.65 500.74,474.93 510.08,473.94C519.42,472.94 528.76,472.16 538.10,471.32C547.44,470.48 556.78,469.61 566.12,468.89C575.45,468.18 584.79,467.65 594.13,467.02C603.47,466.40 614.50,465.62 622.15,465.16C629.79,464.69 624.57,464.69 640.00,464.22C655.43,463.76 689.81,462.67 714.71,462.36C739.61,462.04 764.52,462.20 789.42,462.36C814.32,462.51 845.45,462.82 864.13,463.29C882.81,463.76 893.84,464.38 901.49,465.16C909.13,465.94 902.36,467.02 910.00,467.96C917.64,468.89 936.46,469.67 947.36,470.76C958.25,471.85 966.03,473.09 975.37,474.50C984.71,475.90 994.05,477.45 1003.39,479.17C1012.73,480.88 1022.07,482.74 1031.40,484.77C1040.74,486.79 1050.08,488.50 1059.42,491.31C1068.76,494.11 1078.10,497.84 1087.44,501.58C1096.78,505.31 1106.12,509.05 1115.45,513.72C1124.79,518.39 1135.69,524.46 1143.47,529.59C1151.25,534.73 1156.52,539.92 1162.15,544.54C1167.77,549.16 1172.63,554.06 1177.22,557.32C1181.81,560.59 1184.40,562.61 1189.69,564.13C1194.98,565.64 1204.25,566.58 1208.97,566.39C1213.70,566.20 1214.83,565.64 1218.04,562.99C1221.26,560.35 1224.85,553.92 1228.25,550.52C1231.65,547.11 1234.49,545.41 1238.46,542.58C1242.42,539.74 1247.91,536.15 1252.06,533.51C1256.22,530.86 1258.68,529.35 1263.40,526.70C1268.13,524.06 1274.74,520.09 1280.42,517.63C1286.09,515.17 1294.59,512.90 1297.43,511.96" stroke="#b2b2b2" stroke-width="4.6" fill="none" stroke-linecap="butt" stroke-linejoin="round" stroke-dasharray="14.70 14.70" clip-path="url(#cp2)"/>
<path d="M104.11,467.58C109.65,467.71 125.59,468.02 137.36,468.33C149.12,468.64 162.26,468.89 174.71,469.45C187.16,470.01 199.61,470.08 212.07,471.69C224.52,473.31 240.08,476.99 249.42,479.17C258.76,481.34 261.87,482.59 268.10,484.77C274.32,486.95 280.55,489.90 286.78,492.24C293.00,494.57 299.23,496.60 305.45,498.78C311.68,500.96 317.91,502.67 324.13,505.31C330.36,507.96 336.58,511.54 342.81,514.65C349.03,517.77 356.95,521.50 361.49,523.99C366.02,526.48 365.47,527.42 370.00,529.59C374.53,531.77 382.45,534.26 388.68,537.07C394.90,539.87 401.67,543.25 407.36,546.40C413.04,549.56 416.03,552.53 422.80,556.00C429.57,559.47 439.13,563.62 448.00,567.20C456.87,570.78 466.67,574.38 476.00,577.50C485.33,580.62 494.67,583.48 504.00,585.90C513.33,588.32 524.33,590.65 532.00,592.00C539.67,593.35 542.00,592.83 550.00,594.00C558.00,595.17 570.00,597.33 580.00,599.00C590.00,600.67 601.67,602.50 610.00,604.00C618.33,605.50 623.33,606.33 630.00,608.00C636.67,609.67 643.33,612.00 650.00,614.00C656.67,616.00 664.60,618.20 670.00,620.00C675.40,621.80 678.07,623.33 682.40,624.80C686.73,626.27 691.07,626.93 696.00,628.80C700.93,630.67 706.67,632.65 712.00,636.00C717.33,639.35 722.67,643.95 728.00,648.90C733.33,653.85 738.67,660.37 744.00,665.70C749.33,671.03 755.33,676.10 760.00,680.90C764.67,685.70 768.25,689.97 772.00,694.50C775.75,699.03 779.50,704.18 782.50,708.10C785.50,712.02 787.08,715.35 790.00,718.00C792.92,720.65 796.33,724.00 800.00,724.00C803.67,724.00 808.67,721.72 812.00,718.00C815.33,714.28 817.33,706.42 820.00,701.70C822.67,696.98 825.33,693.70 828.00,689.70C830.67,685.70 833.33,681.70 836.00,677.70C838.67,673.70 841.33,669.70 844.00,665.70C846.67,661.70 849.33,657.30 852.00,653.70C854.67,650.10 857.33,647.32 860.00,644.10C862.67,640.88 865.32,637.62 868.00,634.40C870.68,631.18 873.42,628.27 876.10,624.80C878.78,621.33 881.43,617.07 884.10,613.60C886.77,610.13 889.45,606.93 892.10,604.00C894.75,601.07 893.90,601.40 900.00,596.00C906.10,590.60 920.79,577.86 928.68,571.62C936.57,565.38 941.13,562.90 947.36,558.55C953.58,554.19 959.81,549.36 966.03,545.47C972.26,541.58 978.48,538.62 984.71,535.20C990.94,531.77 997.16,528.35 1003.39,524.93C1009.61,521.50 1015.84,517.92 1022.07,514.65C1028.29,511.38 1034.52,508.12 1040.74,505.31C1046.97,502.51 1053.20,500.33 1059.42,497.84C1065.65,495.35 1071.87,492.71 1078.10,490.37C1084.32,488.04 1090.55,486.01 1096.78,483.83C1103.00,481.66 1109.23,479.17 1115.45,477.30C1121.68,475.43 1127.91,474.12 1134.13,472.63C1140.36,471.13 1143.50,470.27 1152.81,468.33C1162.12,466.40 1182.14,462.57 1190.01,461.02C1197.87,459.47 1195.01,459.69 1200.01,459.02C1205.02,458.35 1213.35,457.02 1220.02,457.02C1226.69,457.02 1233.37,458.02 1240.04,459.02C1246.71,460.02 1253.38,461.76 1260.05,463.02C1266.72,464.29 1273.39,465.79 1280.06,466.62C1286.73,467.46 1293.40,468.13 1300.07,468.03C1306.74,467.93 1313.41,466.86 1320.08,466.02C1326.75,465.19 1333.43,464.36 1340.10,463.02C1346.77,461.69 1353.44,459.35 1360.11,458.02C1366.78,456.69 1373.45,455.85 1380.12,455.02C1386.79,454.18 1393.46,453.68 1400.13,453.02C1406.80,452.35 1413.47,451.68 1420.14,451.02C1426.81,450.35 1433.49,449.68 1440.16,449.01C1446.83,448.35 1453.66,447.68 1460.17,447.01C1466.67,446.35 1476.01,445.35 1479.18,445.01" stroke="#b2b2b2" stroke-width="4.6" fill="none" stroke-linecap="butt" stroke-linejoin="round" stroke-dasharray="3.63 3.72" clip-path="url(#cp2)"/>
<path d="M104.11,479.17C109.65,478.79 125.59,477.24 137.36,476.92C149.12,476.61 162.26,477.14 174.71,477.30C187.16,477.45 199.61,477.76 212.07,477.86C224.52,477.95 240.08,477.80 249.42,477.86C258.76,477.92 263.00,478.09 268.10,478.23C273.20,478.37 269.78,477.62 280.00,478.70C290.22,479.78 313.83,482.58 329.40,484.70C344.97,486.82 359.40,488.30 373.40,491.40C387.40,494.50 405.63,500.93 413.40,503.30C421.17,505.67 414.23,503.50 420.00,505.60C425.77,507.70 438.67,512.48 448.00,515.90C457.33,519.32 466.67,522.53 476.00,526.10C485.33,529.67 496.22,533.72 504.00,537.30C511.78,540.88 516.47,544.17 522.70,547.60C528.93,551.03 536.85,555.25 541.40,557.90C545.95,560.55 545.23,560.98 550.00,563.50C554.77,566.02 563.33,569.92 570.00,573.00C576.67,576.08 583.33,578.67 590.00,582.00C596.67,585.33 603.33,588.33 610.00,593.00C616.67,597.67 623.33,604.17 630.00,610.00C636.67,615.83 643.33,622.17 650.00,628.00C656.67,633.83 665.00,641.00 670.00,645.00C675.00,649.00 677.00,649.75 680.00,652.00C683.00,654.25 685.33,655.95 688.00,658.50C690.67,661.05 693.33,664.37 696.00,667.30C698.67,670.23 701.33,673.03 704.00,676.10C706.67,679.17 709.33,681.97 712.00,685.70C714.67,689.43 717.87,694.77 720.00,698.50C722.13,702.23 723.47,705.17 724.80,708.10C726.13,711.03 727.13,713.78 728.00,716.10C728.87,718.42 729.67,721.02 730.00,722.00" stroke="#000000" stroke-width="4.6" fill="none" stroke-linecap="butt" stroke-linejoin="round" clip-path="url(#cp2)"/>
<path d="M814.00,722.00C814.33,721.02 813.67,720.02 816.00,716.10C818.33,712.18 824.00,704.50 828.00,698.50C832.00,692.50 836.00,685.97 840.00,680.10C844.00,674.23 847.98,667.97 852.00,663.30C856.02,658.63 860.08,655.30 864.10,652.10C868.12,648.90 872.10,646.38 876.10,644.10C880.10,641.82 884.12,640.02 888.10,638.40C892.08,636.78 896.35,635.26 900.00,634.40C903.65,633.54 905.22,634.07 910.00,633.26C914.78,632.44 922.45,631.08 928.68,629.52C934.90,627.96 941.13,626.25 947.36,623.92C953.58,621.58 959.81,618.00 966.03,615.51C972.26,613.02 978.48,610.53 984.71,608.97C990.94,607.42 997.16,606.39 1003.39,606.17C1009.61,605.96 1015.84,607.20 1022.07,607.67C1028.29,608.13 1034.52,609.22 1040.74,608.97C1046.97,608.73 1053.20,608.04 1059.42,606.17C1065.65,604.31 1071.87,600.57 1078.10,597.77C1084.32,594.97 1090.55,591.54 1096.78,589.36C1103.00,587.18 1109.23,586.25 1115.45,584.69C1121.68,583.14 1127.91,582.51 1134.13,580.02C1140.36,577.53 1148.27,572.97 1152.81,569.75C1157.34,566.53 1158.13,563.74 1161.34,560.72C1164.55,557.70 1168.30,555.60 1172.08,551.63C1175.86,547.66 1180.14,541.44 1184.02,536.91C1187.90,532.38 1190.64,528.59 1195.36,524.43C1200.09,520.28 1206.70,515.36 1212.37,511.96C1218.04,508.56 1223.15,506.01 1229.38,504.02C1235.62,502.04 1243.18,500.34 1249.80,500.05C1256.41,499.77 1263.03,500.90 1269.07,502.32C1275.12,503.74 1281.36,506.19 1286.09,508.56C1290.81,510.92 1293.65,513.28 1297.43,516.50C1301.21,519.71 1300.00,520.59 1308.77,527.84C1317.53,535.09 1334.79,546.31 1350.00,560.00C1365.21,573.69 1385.00,594.17 1400.00,610.00C1415.00,625.83 1430.20,642.15 1440.00,655.00C1449.80,667.85 1453.05,677.17 1458.80,687.08C1464.55,696.98 1471.56,708.96 1474.52,714.42C1477.49,719.89 1476.23,718.98 1476.58,719.89" stroke="#000000" stroke-width="4.6" fill="none" stroke-linecap="butt" stroke-linejoin="round" clip-path="url(#cp2)"/>
<path d="M101.87,566.95C106.23,568.20 120.55,573.08 128.02,574.42C135.49,575.76 140.47,575.45 146.69,574.98C152.92,574.51 159.15,573.27 165.37,571.62C171.60,569.97 177.82,567.73 184.05,565.08C190.28,562.44 194.94,559.95 202.73,555.74C210.51,551.54 222.96,544.85 230.74,539.87C238.53,534.89 243.20,530.37 249.42,525.86C255.65,521.35 263.00,516.19 268.10,512.78C273.20,509.37 272.90,508.86 280.00,505.40C287.10,501.94 301.80,496.00 310.70,492.00C319.60,488.00 326.28,484.40 333.40,481.40C340.52,478.40 343.85,476.90 353.40,474.00C362.95,471.10 380.70,466.33 390.70,464.00C400.70,461.67 404.05,461.45 413.40,460.00C422.75,458.55 436.78,456.42 446.80,455.30C456.82,454.18 467.62,453.62 473.50,453.30C479.38,452.98 474.41,453.44 482.07,453.39C489.72,453.34 506.97,453.02 519.42,453.02C531.87,453.02 544.32,453.14 556.78,453.39C569.23,453.64 581.68,454.11 594.13,454.51C606.58,454.92 623.84,455.44 631.49,455.82C639.13,456.19 632.36,456.29 640.00,456.75C647.64,457.22 664.90,458.15 677.36,458.62C689.81,459.09 702.26,459.09 714.71,459.55C727.16,460.02 739.61,460.95 752.07,461.42C764.52,461.89 776.97,462.14 789.42,462.36C801.87,462.57 814.32,462.57 826.78,462.73C839.23,462.88 851.68,463.10 864.13,463.29C876.58,463.48 893.84,463.85 901.49,463.85C909.13,463.85 899.24,463.38 910.00,463.29C920.76,463.20 947.36,463.29 966.03,463.29C984.71,463.29 1006.50,463.20 1022.07,463.29C1037.63,463.38 1046.97,463.23 1059.42,463.85C1071.87,464.47 1084.32,465.72 1096.78,467.02C1109.23,468.33 1124.79,470.29 1134.13,471.69C1143.47,473.09 1146.67,473.79 1152.81,475.43C1158.95,477.07 1166.50,480.00 1170.95,481.55C1175.40,483.11 1175.79,482.70 1179.49,484.74C1183.18,486.79 1189.31,490.98 1193.09,493.81C1196.87,496.65 1198.57,498.54 1202.17,501.75C1205.76,504.97 1210.86,509.88 1214.64,513.09C1218.42,516.31 1220.69,518.67 1224.85,521.03C1229.01,523.39 1235.53,526.51 1239.59,527.27C1243.65,528.03 1244.88,527.55 1249.23,525.57C1253.58,523.58 1261.89,518.01 1265.67,515.36C1269.45,512.72 1267.94,512.53 1271.91,509.69C1275.88,506.86 1285.61,500.71 1289.49,498.35C1293.36,495.99 1291.57,496.93 1295.16,495.52C1298.75,494.10 1306.88,490.76 1311.03,489.85C1315.19,488.93 1316.57,490.01 1320.08,490.04C1323.59,490.07 1318.77,487.55 1332.09,490.04C1345.41,492.53 1382.02,499.67 1400.00,505.00C1417.98,510.33 1429.06,515.36 1440.00,522.00C1450.94,528.64 1459.08,539.57 1465.64,544.86C1472.19,550.16 1477.03,552.27 1479.31,553.75" stroke="#000000" stroke-width="4.6" fill="none" stroke-linecap="round" stroke-linejoin="round" stroke-dasharray="10.40 8.80 0.00 8.80" clip-path="url(#cp2)"/>
<path d="M104.11,490.37C109.65,490.62 125.59,491.31 137.36,491.87C149.12,492.43 162.26,492.58 174.71,493.73C187.16,494.89 199.61,496.54 212.07,498.78C224.52,501.02 236.97,504.22 249.42,507.18C261.87,510.14 277.44,513.87 286.78,516.52C296.12,519.17 299.23,520.72 305.45,523.06C311.68,525.39 317.91,528.41 324.13,530.53C330.36,532.65 336.58,534.67 342.81,535.76C349.03,536.85 356.95,537.00 361.49,537.07C366.02,537.13 363.91,537.22 370.00,536.13C376.09,535.04 388.68,533.17 398.02,530.53C407.36,527.88 416.69,523.84 426.03,520.26C435.37,516.68 444.71,512.32 454.05,509.05C463.39,505.78 472.73,503.45 482.07,500.64C491.40,497.84 500.74,494.57 510.08,492.24C519.42,489.90 528.76,488.57 538.10,486.64C547.44,484.71 556.78,482.46 566.12,480.66C575.45,478.85 584.79,477.14 594.13,475.80C603.47,474.46 614.50,473.31 622.15,472.63C629.79,471.94 630.80,472.47 640.00,471.69C649.20,470.92 664.90,469.05 677.36,467.96C689.81,466.87 705.37,465.78 714.71,465.16C724.05,464.53 727.16,464.53 733.39,464.22C739.61,463.91 742.73,463.54 752.07,463.29C761.40,463.04 776.97,462.79 789.42,462.73C801.87,462.67 814.32,462.79 826.78,462.92C839.23,463.04 851.68,463.32 864.13,463.48C876.58,463.63 893.84,463.72 901.49,463.85C909.13,463.97 902.36,464.10 910.00,464.22C917.64,464.35 936.46,464.04 947.36,464.60C958.25,465.16 966.03,466.46 975.37,467.58C984.71,468.71 994.05,469.95 1003.39,471.32C1012.73,472.69 1022.07,474.18 1031.40,475.80C1040.74,477.42 1050.08,478.92 1059.42,481.03C1068.76,483.15 1078.10,485.86 1087.44,488.50C1096.78,491.15 1106.12,493.80 1115.45,496.91C1124.79,500.02 1134.03,502.61 1143.47,507.18C1152.91,511.75 1165.33,519.17 1172.08,524.31C1178.84,529.46 1180.33,534.62 1184.02,538.04C1187.71,541.46 1190.83,542.20 1194.23,544.85C1197.63,547.49 1200.46,551.27 1204.43,553.92C1208.40,556.57 1213.70,560.72 1218.04,560.72C1222.39,560.72 1226.36,556.38 1230.52,553.92C1234.68,551.46 1239.40,549.19 1242.99,545.98C1246.58,542.77 1248.47,537.66 1252.06,534.64C1255.66,531.62 1260.19,530.29 1264.54,527.84C1268.89,525.38 1273.80,521.79 1278.15,519.90C1282.49,518.01 1285.71,517.25 1290.62,516.50C1295.54,515.74 1297.74,511.44 1307.63,515.36C1317.53,519.28 1331.27,530.89 1350.00,540.00C1368.73,549.11 1401.64,560.64 1420.00,570.00C1438.36,579.36 1451.65,590.19 1460.17,596.14C1468.68,602.09 1467.46,602.41 1471.11,605.71C1474.75,609.02 1480.22,614.26 1482.05,615.97" stroke="#000000" stroke-width="4.6" fill="none" stroke-linecap="butt" stroke-linejoin="round" stroke-dasharray="14.70 14.70" clip-path="url(#cp2)"/>
<path d="M104.11,471.32C109.65,471.16 125.59,470.54 137.36,470.39C149.12,470.23 162.26,470.39 174.71,470.39C187.16,470.39 199.61,470.23 212.07,470.39C224.52,470.54 240.08,470.95 249.42,471.32C258.76,471.69 261.87,472.01 268.10,472.63C274.32,473.25 280.55,474.12 286.78,475.06C293.00,475.99 299.23,477.24 305.45,478.23C311.68,479.23 317.91,480.01 324.13,481.03C330.36,482.06 336.58,483.31 342.81,484.39C349.03,485.48 356.95,486.73 361.49,487.57C366.02,488.41 362.36,487.41 370.00,489.44C377.64,491.46 389.69,493.12 407.36,499.71C425.02,506.30 458.33,521.49 476.00,529.00C493.67,536.51 501.07,539.13 513.40,544.80C525.73,550.47 538.90,557.97 550.00,563.00C561.10,568.03 570.00,571.50 580.00,575.00C590.00,578.50 600.00,581.00 610.00,584.00C620.00,587.00 630.00,590.00 640.00,593.00C650.00,596.00 663.33,600.03 670.00,602.00C676.67,603.97 675.67,603.27 680.00,604.80C684.33,606.33 690.67,608.93 696.00,611.20C701.33,613.47 706.67,616.00 712.00,618.40C717.33,620.80 722.67,623.33 728.00,625.60C733.33,627.87 738.67,629.73 744.00,632.00C749.33,634.27 754.67,637.20 760.00,639.20C765.33,641.20 771.33,642.25 776.00,644.00C780.67,645.75 784.67,648.22 788.00,649.70C791.33,651.18 793.33,651.97 796.00,652.90C798.67,653.83 800.53,654.70 804.00,655.30C807.47,655.90 813.47,656.37 816.80,656.50C820.13,656.63 821.47,656.63 824.00,656.10C826.53,655.57 828.67,654.90 832.00,653.30C835.33,651.70 840.00,649.12 844.00,646.50C848.00,643.88 852.00,640.82 856.00,637.60C860.00,634.38 863.98,630.93 868.00,627.20C872.02,623.47 876.08,618.67 880.10,615.20C884.12,611.73 888.78,608.80 892.10,606.40C895.42,604.00 893.90,605.51 900.00,600.80C906.10,596.09 920.79,584.42 928.68,578.16C936.57,571.89 941.13,567.88 947.36,563.21C953.58,558.55 959.81,554.19 966.03,550.14C972.26,546.09 978.48,542.36 984.71,538.93C990.94,535.51 997.16,532.71 1003.39,529.59C1009.61,526.48 1015.84,523.37 1022.07,520.26C1028.29,517.14 1034.52,514.03 1040.74,510.92C1046.97,507.80 1053.20,504.38 1059.42,501.58C1065.65,498.78 1071.87,496.60 1078.10,494.11C1084.32,491.62 1090.55,489.13 1096.78,486.64C1103.00,484.15 1109.23,481.34 1115.45,479.17C1121.68,476.99 1127.91,475.43 1134.13,473.56C1140.36,471.69 1146.58,469.83 1152.81,467.96C1159.03,466.09 1165.29,464.01 1171.49,462.36C1177.69,460.70 1185.25,458.91 1190.01,458.02C1194.76,457.13 1195.01,457.52 1200.01,457.02C1205.02,456.52 1213.35,455.02 1220.02,455.02C1226.69,455.02 1233.37,456.02 1240.04,457.02C1246.71,458.02 1253.38,459.69 1260.05,461.02C1266.72,462.36 1273.39,464.19 1280.06,465.02C1286.73,465.86 1293.40,466.69 1300.07,466.02C1306.74,465.36 1313.41,462.86 1320.08,461.02C1326.75,459.19 1333.43,456.85 1340.10,455.02C1346.77,453.18 1353.44,451.35 1360.11,450.02C1366.78,448.68 1373.45,447.91 1380.12,447.01C1386.79,446.11 1393.46,445.35 1400.13,444.61C1406.80,443.88 1413.47,443.21 1420.14,442.61C1426.81,442.01 1433.49,441.54 1440.16,441.01C1446.83,440.48 1453.66,439.91 1460.17,439.41C1466.67,438.91 1476.01,438.24 1479.18,438.01" stroke="#000000" stroke-width="4.6" fill="none" stroke-linecap="butt" stroke-linejoin="round" stroke-dasharray="3.63 3.72" clip-path="url(#cp2)"/>
<path d="M104.40,716.20v-14M104.40,432.80v14M333.40,716.20v-14M333.40,432.80v14M562.40,716.20v-14M562.40,432.80v14M791.40,716.20v-14M791.40,432.80v14M1020.40,716.20v-14M1020.40,432.80v14M1249.40,716.20v-14M1249.40,432.80v14M1478.40,716.20v-14M1478.40,432.80v14M104.40,716.20h14M1478.40,716.20h-14M104.40,621.73h14M1478.40,621.73h-14M104.40,527.27h14M1478.40,527.27h-14M104.40,432.80h14M1478.40,432.80h-14" stroke="#262626" stroke-width="1.3" fill="none"/>
<rect x="104.40" y="432.80" width="1374.00" height="283.40" stroke="#262626" stroke-width="1.3" fill="none"/>
<path d="M734.15,433.50V621.73H848.65V433.50" stroke="#e8131b" stroke-width="1.4" fill="none"/>
<text x="45.05" y="727.90" font-size="34.6" style="" fill="#1a1a1a" textLength="44.52" lengthAdjust="spacingAndGlyphs">-30</text>
<text x="48.65" y="633.43" font-size="34.6" style="" fill="#1a1a1a" textLength="40.81" lengthAdjust="spacingAndGlyphs">-20</text>
<text x="50.20" y="538.97" font-size="34.6" style="" fill="#1a1a1a" textLength="39.22" lengthAdjust="spacingAndGlyphs">-10</text>
<text x="71.43" y="444.50" font-size="34.6" style="" fill="#1a1a1a" textLength="18.24" lengthAdjust="spacingAndGlyphs">0</text>
<text x="83.14" y="760.40" font-size="34.6" style="" fill="#1a1a1a" textLength="40.87" lengthAdjust="spacingAndGlyphs">0.6</text>
<text x="312.26" y="760.40" font-size="34.6" style="" fill="#1a1a1a" textLength="40.87" lengthAdjust="spacingAndGlyphs">0.8</text>
<text x="553.08" y="760.40" font-size="34.6" style="" fill="#1a1a1a" textLength="16.35" lengthAdjust="spacingAndGlyphs">1</text>
<text x="769.73" y="760.40" font-size="34.6" style="" fill="#1a1a1a" textLength="40.87" lengthAdjust="spacingAndGlyphs">1.2</text>
<text x="998.08" y="760.40" font-size="34.6" style="" fill="#1a1a1a" textLength="40.87" lengthAdjust="spacingAndGlyphs">1.4</text>
<text x="1227.32" y="760.40" font-size="34.6" style="" fill="#1a1a1a" textLength="40.87" lengthAdjust="spacingAndGlyphs">1.6</text>
<text x="1456.45" y="760.40" font-size="34.6" style="" fill="#1a1a1a" textLength="40.87" lengthAdjust="spacingAndGlyphs">1.8</text>
<text x="657.88" y="805.80" font-size="38.5" style="" fill="#1a1a1a" textLength="263.34" lengthAdjust="spacingAndGlyphs">Frequency [GHz]</text>
<text transform="translate(31.00,575.70) rotate(-90)" x="-136.61" y="0" font-size="38.5" style="" fill="#1a1a1a" textLength="273.44" lengthAdjust="spacingAndGlyphs">S-parameters [dB]</text>
<rect x="1309.1" y="494.3" width="149.10" height="205.00" fill="#fff" stroke="#262626" stroke-width="1.3"/>
<path d="M1316.30,522.40L1385.40,522.40" stroke="#000000" stroke-width="4.6" fill="none" stroke-linecap="butt" stroke-linejoin="round" stroke-dasharray="3.63 3.72"/>
<path d="M1397.80,506.00v28M1445.80,506.00v28" stroke="#111" stroke-width="1.5"/>
<text x="1401.66" y="527.10" font-size="31" style="font-style:italic;" fill="#1a1a1a" textLength="17.66" lengthAdjust="spacingAndGlyphs">S</text>
<text x="1419.60" y="542.00" font-size="24.8" style="" fill="#1a1a1a" textLength="19.85" lengthAdjust="spacingAndGlyphs">11</text>
<path d="M1316.30,572.00L1389.30,572.00" stroke="#000000" stroke-width="4.6" fill="none" stroke-linecap="butt" stroke-linejoin="round" stroke-dasharray="12.67 12.25"/>
<path d="M1397.80,555.60v28M1445.80,555.60v28" stroke="#111" stroke-width="1.5"/>
<text x="1401.66" y="576.70" font-size="31" style="font-style:italic;" fill="#1a1a1a" textLength="17.66" lengthAdjust="spacingAndGlyphs">S</text>
<text x="1420.56" y="591.60" font-size="24.8" style="" fill="#1a1a1a" textLength="18.77" lengthAdjust="spacingAndGlyphs">21</text>
<path d="M1316.30,621.60L1389.30,621.60" stroke="#000000" stroke-width="4.6" fill="none" stroke-linecap="butt" stroke-linejoin="round" stroke-dasharray="12.67 12.25"/>
<path d="M1397.80,605.20v28M1445.80,605.20v28" stroke="#111" stroke-width="1.5"/>
<text x="1401.66" y="626.30" font-size="31" style="font-style:italic;" fill="#1a1a1a" textLength="17.66" lengthAdjust="spacingAndGlyphs">S</text>
<text x="1420.51" y="641.20" font-size="24.8" style="" fill="#1a1a1a" textLength="18.82" lengthAdjust="spacingAndGlyphs">31</text>
<path d="M1316.30,671.20L1389.30,671.20" stroke="#000000" stroke-width="4.6" fill="none" stroke-linecap="butt" stroke-linejoin="round"/>
<path d="M1397.80,654.80v28M1445.80,654.80v28" stroke="#111" stroke-width="1.5"/>
<text x="1401.66" y="675.90" font-size="31" style="font-style:italic;" fill="#1a1a1a" textLength="17.66" lengthAdjust="spacingAndGlyphs">S</text>
<text x="1421.03" y="690.80" font-size="24.8" style="" fill="#1a1a1a" textLength="18.26" lengthAdjust="spacingAndGlyphs">41</text>
<path d="M333.40,1305.90V1589.50M562.40,1305.90V1589.50M791.40,1305.90V1589.50M1020.40,1305.90V1589.50M1249.40,1305.90V1589.50M104.40,1494.97H1478.40M104.40,1400.43H1478.40" stroke="#dddddd" stroke-width="1.5" fill="none"/>
<path d="M104.11,1351.23C115.88,1351.17 150.49,1350.95 174.71,1350.86C198.93,1350.76 230.74,1350.36 249.42,1350.67C268.10,1350.98 274.32,1351.85 286.78,1352.73C299.23,1353.60 314.79,1355.00 324.13,1355.90C333.47,1356.80 336.58,1357.05 342.81,1358.14C349.03,1359.23 356.95,1361.88 361.49,1362.44C366.02,1363.00 362.36,1359.95 370.00,1361.50C377.64,1363.06 394.90,1368.04 407.36,1371.78C419.81,1375.51 432.26,1379.25 444.71,1383.92C457.16,1388.59 469.61,1394.19 482.07,1399.79C494.52,1405.40 506.97,1411.16 519.42,1417.54C531.87,1423.92 546.68,1432.87 556.78,1438.08C566.87,1443.29 573.13,1445.61 580.00,1448.80C586.87,1451.99 592.00,1453.80 598.00,1457.20C604.00,1460.60 610.00,1464.60 616.00,1469.20C622.00,1473.80 628.00,1479.38 634.00,1484.80C640.00,1490.22 646.00,1496.48 652.00,1501.70C658.00,1506.92 663.98,1511.30 670.00,1516.10C676.02,1520.90 683.08,1526.30 688.10,1530.50C693.12,1534.70 696.10,1536.70 700.10,1541.30C704.10,1545.90 708.10,1551.90 712.10,1558.10C716.10,1564.30 721.35,1572.74 724.10,1578.50C726.85,1584.26 727.85,1590.29 728.60,1592.65" stroke="#b2b2b2" stroke-width="4.6" fill="none" stroke-linecap="butt" stroke-linejoin="round" clip-path="url(#cp5)"/>
<path d="M812.77,1600.58C813.39,1598.62 812.61,1595.35 816.50,1588.81C820.39,1582.27 828.18,1571.53 836.12,1561.35C844.05,1551.18 854.79,1536.14 864.13,1527.73C873.47,1519.33 884.43,1514.66 892.15,1510.92C899.86,1507.19 904.32,1506.72 910.41,1505.32C916.50,1503.92 922.52,1503.92 928.68,1502.52C934.83,1501.12 941.13,1499.25 947.36,1496.92C953.58,1494.58 959.81,1491.16 966.03,1488.51C972.26,1485.87 978.48,1482.75 984.71,1481.04C990.94,1479.33 997.16,1478.39 1003.39,1478.24C1009.61,1478.08 1015.84,1479.33 1022.07,1480.11C1028.29,1480.89 1034.52,1483.22 1040.74,1482.91C1046.97,1482.60 1053.20,1480.73 1059.42,1478.24C1065.65,1475.75 1071.87,1470.92 1078.10,1467.97C1084.32,1465.01 1090.55,1462.52 1096.78,1460.50C1103.00,1458.47 1110.25,1456.74 1115.45,1455.83C1120.66,1454.91 1122.16,1457.30 1128.00,1455.00C1133.84,1452.70 1142.50,1449.00 1150.50,1442.00C1158.50,1435.00 1168.00,1421.50 1176.00,1413.00C1184.00,1404.50 1190.50,1397.08 1198.50,1391.00C1206.50,1384.92 1215.42,1379.62 1224.00,1376.50C1232.58,1373.38 1240.33,1372.55 1250.00,1372.30C1259.67,1372.05 1273.00,1372.97 1282.00,1375.00C1291.00,1377.03 1292.67,1380.33 1304.00,1384.50C1315.33,1388.67 1330.67,1385.75 1350.00,1400.00C1369.33,1414.25 1402.33,1443.00 1420.00,1470.00C1437.67,1497.00 1447.33,1541.67 1456.00,1562.00C1464.67,1582.33 1469.33,1587.00 1472.00,1592.00" stroke="#b2b2b2" stroke-width="4.6" fill="none" stroke-linecap="butt" stroke-linejoin="round" clip-path="url(#cp5)"/>
<path d="M101.87,1439.95C106.23,1441.04 119.92,1445.09 128.02,1446.49C136.11,1447.89 142.65,1449.13 150.43,1448.35C158.21,1447.58 165.99,1445.09 174.71,1441.82C183.43,1438.55 193.39,1433.72 202.73,1428.74C212.07,1423.76 221.40,1417.54 230.74,1411.93C240.08,1406.33 249.42,1400.88 258.76,1395.12C268.10,1389.36 278.06,1382.42 286.78,1377.38C295.49,1372.34 303.27,1368.60 311.06,1364.87C318.84,1361.13 325.07,1358.48 333.47,1354.97C341.88,1351.45 355.40,1345.78 361.49,1343.76C367.58,1341.74 365.47,1343.92 370.00,1342.83C374.53,1341.74 380.90,1338.94 388.68,1337.22C396.46,1335.51 407.36,1333.95 416.69,1332.55C426.03,1331.15 433.82,1329.75 444.71,1328.82C455.61,1327.88 469.61,1327.42 482.07,1326.95C494.52,1326.48 506.97,1326.11 519.42,1326.02C531.87,1325.92 544.32,1326.14 556.78,1326.39C569.23,1326.64 581.68,1327.26 594.13,1327.51C606.58,1327.76 623.84,1327.82 631.49,1327.88C639.13,1327.95 626.13,1327.32 640.00,1327.88C653.87,1328.44 689.81,1330.13 714.71,1331.25C739.61,1332.37 764.52,1333.86 789.42,1334.61C814.32,1335.36 845.45,1335.45 864.13,1335.73C882.81,1336.01 893.84,1336.04 901.49,1336.29C909.13,1336.54 889.90,1337.13 910.00,1337.22C930.10,1337.32 990.94,1336.38 1022.07,1336.85C1053.20,1337.32 1078.10,1338.87 1096.78,1340.02C1115.45,1341.18 1124.79,1342.52 1134.13,1343.76C1143.47,1345.01 1146.58,1345.78 1152.81,1347.50C1159.03,1349.21 1163.62,1350.27 1171.49,1354.03C1179.35,1357.79 1193.59,1365.71 1200.01,1370.04C1206.43,1374.38 1206.68,1377.05 1210.02,1380.05C1213.35,1383.05 1215.69,1385.05 1220.02,1388.05C1224.36,1391.06 1231.03,1395.39 1236.03,1398.06C1241.04,1400.73 1246.71,1402.90 1250.04,1404.06C1253.38,1405.23 1252.71,1406.73 1256.05,1405.06C1259.38,1403.40 1264.38,1398.56 1270.05,1394.06C1275.72,1389.55 1283.40,1382.38 1290.07,1378.05C1296.74,1373.71 1305.08,1370.38 1310.08,1368.04C1315.08,1365.71 1315.08,1364.87 1320.08,1364.04C1325.09,1363.21 1330.11,1359.55 1340.10,1363.04C1350.08,1366.53 1366.68,1378.84 1380.00,1385.00C1393.32,1391.16 1413.33,1397.50 1420.00,1400.00" stroke="#b2b2b2" stroke-width="4.6" fill="none" stroke-linecap="round" stroke-linejoin="round" stroke-dasharray="10.40 8.80 0.00 8.80" clip-path="url(#cp5)"/>
<path d="M104.11,1364.31C109.65,1364.46 125.59,1364.71 137.36,1365.24C149.12,1365.77 162.26,1366.39 174.71,1367.48C187.16,1368.57 199.61,1369.97 212.07,1371.78C224.52,1373.58 236.97,1375.36 249.42,1378.31C261.87,1381.27 277.44,1386.10 286.78,1389.52C296.12,1392.94 299.23,1396.21 305.45,1398.86C311.68,1401.51 317.91,1403.68 324.13,1405.40C330.36,1407.11 336.58,1408.35 342.81,1409.13C349.03,1409.91 356.95,1410.53 361.49,1410.07C366.02,1409.60 363.91,1407.26 370.00,1406.33C376.09,1405.40 388.68,1406.33 398.02,1404.46C407.36,1402.59 416.69,1398.24 426.03,1395.12C435.37,1392.01 444.71,1389.36 454.05,1385.78C463.39,1382.20 472.73,1376.91 482.07,1373.64C491.40,1370.38 500.74,1368.35 510.08,1366.17C519.42,1363.99 528.76,1362.59 538.10,1360.57C547.44,1358.55 556.78,1355.90 566.12,1354.03C575.45,1352.17 584.79,1350.76 594.13,1349.36C603.47,1347.96 614.50,1346.72 622.15,1345.63C629.79,1344.54 630.80,1343.67 640.00,1342.83C649.20,1341.99 664.90,1341.36 677.36,1340.58C689.81,1339.81 702.26,1338.87 714.71,1338.16C727.16,1337.44 739.61,1336.76 752.07,1336.29C764.52,1335.82 776.97,1335.42 789.42,1335.36C801.87,1335.29 814.32,1335.73 826.78,1335.92C839.23,1336.10 851.68,1336.26 864.13,1336.48C876.58,1336.69 893.84,1337.10 901.49,1337.22C909.13,1337.35 899.24,1336.76 910.00,1337.22C920.76,1337.69 952.02,1338.94 966.03,1340.02C980.04,1341.11 984.71,1342.52 994.05,1343.76C1003.39,1345.01 1012.73,1345.78 1022.07,1347.50C1031.40,1349.21 1040.74,1351.85 1050.08,1354.03C1059.42,1356.21 1068.76,1358.08 1078.10,1360.57C1087.44,1363.06 1096.78,1366.17 1106.12,1368.97C1115.45,1371.78 1126.35,1374.58 1134.13,1377.38C1141.91,1380.18 1146.58,1382.83 1152.81,1385.78C1159.03,1388.74 1163.62,1389.41 1171.49,1395.12C1179.35,1400.84 1193.59,1414.25 1200.01,1420.07C1206.43,1425.90 1207.35,1427.91 1210.02,1430.08C1212.69,1432.25 1212.69,1433.75 1216.02,1433.08C1219.36,1432.41 1226.03,1428.58 1230.03,1426.08C1234.03,1423.58 1236.70,1420.91 1240.04,1418.07C1243.37,1415.24 1246.71,1411.73 1250.04,1409.07C1253.38,1406.40 1255.05,1405.06 1260.05,1402.06C1265.05,1399.06 1273.39,1394.39 1280.06,1391.06C1286.73,1387.72 1288.42,1383.89 1300.07,1382.05C1311.73,1380.21 1330.01,1372.01 1350.00,1380.00C1369.99,1387.99 1401.53,1415.10 1420.00,1430.00C1438.47,1444.90 1452.19,1461.44 1460.84,1469.39C1469.49,1477.33 1470.06,1476.30 1471.90,1477.68" stroke="#b2b2b2" stroke-width="4.6" fill="none" stroke-linecap="butt" stroke-linejoin="round" stroke-dasharray="14.70 14.70" clip-path="url(#cp5)"/>
<path d="M104.11,1343.39C112.76,1343.32 138.04,1343.17 156.03,1343.01C174.03,1342.86 196.50,1342.45 212.07,1342.45C227.63,1342.45 236.97,1342.61 249.42,1343.01C261.87,1343.42 277.44,1344.23 286.78,1344.88C296.12,1345.53 299.23,1346.19 305.45,1346.94C311.68,1347.68 317.91,1348.49 324.13,1349.36C330.36,1350.24 336.58,1351.23 342.81,1352.17C349.03,1353.10 356.95,1353.72 361.49,1354.97C366.02,1356.21 362.36,1357.15 370.00,1359.64C377.64,1362.13 394.90,1366.17 407.36,1369.91C419.81,1373.64 432.26,1377.22 444.71,1382.05C457.16,1386.87 469.61,1392.94 482.07,1398.86C494.52,1404.77 506.97,1411.62 519.42,1417.54C531.87,1423.45 546.08,1429.64 556.78,1434.35C567.47,1439.06 573.73,1441.59 583.60,1445.80C593.47,1450.01 604.60,1455.50 616.00,1459.60C627.40,1463.70 639.98,1466.80 652.00,1470.40C664.02,1474.00 676.08,1476.60 688.10,1481.20C700.12,1485.80 712.12,1492.98 724.10,1498.00C736.08,1503.02 752.23,1508.37 760.00,1511.30C767.77,1514.23 765.84,1513.79 770.74,1515.59C775.65,1517.40 783.20,1520.11 789.42,1522.13C795.65,1524.15 803.43,1526.49 808.10,1527.73C812.77,1528.98 814.32,1529.45 817.44,1529.60C820.55,1529.76 822.11,1530.69 826.78,1528.67C831.45,1526.65 839.23,1521.98 845.45,1517.46C851.68,1512.95 857.91,1506.41 864.13,1501.59C870.36,1496.76 876.58,1493.18 882.81,1488.51C889.03,1483.84 893.84,1480.11 901.49,1473.57C909.13,1467.03 921.03,1455.67 928.68,1449.29C936.32,1442.91 941.13,1439.79 947.36,1435.28C953.58,1430.77 959.81,1426.25 966.03,1422.21C972.26,1418.16 978.48,1414.42 984.71,1411.00C990.94,1407.58 997.16,1404.46 1003.39,1401.66C1009.61,1398.86 1015.84,1396.84 1022.07,1394.19C1028.29,1391.54 1034.52,1388.74 1040.74,1385.78C1046.97,1382.83 1053.20,1379.25 1059.42,1376.45C1065.65,1373.64 1071.87,1371.31 1078.10,1368.97C1084.32,1366.64 1090.55,1364.62 1096.78,1362.44C1103.00,1360.26 1109.23,1358.08 1115.45,1355.90C1121.68,1353.72 1127.91,1351.54 1134.13,1349.36C1140.36,1347.18 1146.58,1344.85 1152.81,1342.83C1159.03,1340.80 1165.29,1338.36 1171.49,1337.22C1177.69,1336.09 1185.25,1336.62 1190.01,1336.02C1194.76,1335.42 1195.01,1334.62 1200.01,1333.62C1205.02,1332.62 1213.35,1330.45 1220.02,1330.02C1226.69,1329.59 1233.37,1330.19 1240.04,1331.02C1246.71,1331.85 1253.38,1333.69 1260.05,1335.02C1266.72,1336.36 1275.06,1338.19 1280.06,1339.02C1285.06,1339.86 1286.73,1340.03 1290.07,1340.03C1293.40,1340.03 1295.07,1339.86 1300.07,1339.02C1305.08,1338.19 1313.41,1336.59 1320.08,1335.02C1326.75,1333.45 1333.43,1331.39 1340.10,1329.62C1346.77,1327.85 1353.44,1325.95 1360.11,1324.42C1366.78,1322.88 1373.45,1321.51 1380.12,1320.41C1386.79,1319.31 1393.46,1318.48 1400.13,1317.81C1406.80,1317.14 1413.47,1316.88 1420.14,1316.41C1426.81,1315.94 1433.49,1315.51 1440.16,1315.01C1446.83,1314.51 1453.66,1313.94 1460.17,1313.41C1466.67,1312.88 1476.01,1312.08 1479.18,1311.81" stroke="#b2b2b2" stroke-width="4.6" fill="none" stroke-linecap="butt" stroke-linejoin="round" stroke-dasharray="3.63 3.72" clip-path="url(#cp5)"/>
<path d="M104.11,1352.17C109.65,1352.01 125.59,1351.54 137.36,1351.23C149.12,1350.92 162.26,1350.61 174.71,1350.30C187.16,1349.99 199.61,1349.43 212.07,1349.36C224.52,1349.30 236.97,1349.46 249.42,1349.92C261.87,1350.39 274.32,1351.32 286.78,1352.17C299.23,1353.01 314.79,1354.10 324.13,1354.97C333.47,1355.84 336.58,1356.46 342.81,1357.39C349.03,1358.33 356.95,1360.20 361.49,1360.57C366.02,1360.94 362.36,1358.24 370.00,1359.64C377.64,1361.04 394.90,1365.55 407.36,1368.97C419.81,1372.40 432.26,1376.13 444.71,1380.18C457.16,1384.23 469.61,1388.59 482.07,1393.26C494.52,1397.93 506.97,1402.91 519.42,1408.20C531.87,1413.49 546.68,1420.44 556.78,1425.01C566.87,1429.57 573.13,1432.43 580.00,1435.60C586.87,1438.77 592.00,1440.60 598.00,1444.00C604.00,1447.40 610.00,1451.60 616.00,1456.00C622.00,1460.40 628.00,1465.60 634.00,1470.40C640.00,1475.20 646.00,1480.20 652.00,1484.80C658.00,1489.40 663.98,1493.58 670.00,1498.00C676.02,1502.42 683.08,1507.48 688.10,1511.30C693.12,1515.12 696.10,1517.10 700.10,1520.90C704.10,1524.70 708.10,1529.30 712.10,1534.10C716.10,1538.90 720.10,1544.10 724.10,1549.70C728.10,1555.30 732.70,1561.30 736.10,1567.70C739.50,1574.10 742.77,1583.38 744.50,1588.10C746.23,1592.82 746.17,1594.68 746.50,1596.00" stroke="#000000" stroke-width="4.6" fill="none" stroke-linecap="butt" stroke-linejoin="round" clip-path="url(#cp5)"/>
<path d="M816.50,1600.58C817.13,1598.62 816.97,1595.04 820.24,1588.81C823.51,1582.58 830.36,1571.53 836.12,1563.22C841.87,1554.91 848.57,1545.95 854.79,1538.94C861.02,1531.94 867.24,1526.18 873.47,1521.20C879.70,1516.22 885.99,1512.09 892.15,1509.06C898.31,1506.02 904.32,1504.54 910.41,1502.99C916.50,1501.43 922.52,1501.20 928.68,1499.72C934.83,1498.24 941.13,1496.45 947.36,1494.12C953.58,1491.78 959.81,1488.36 966.03,1485.71C972.26,1483.06 978.48,1480.11 984.71,1478.24C990.94,1476.37 997.16,1475.03 1003.39,1474.50C1009.61,1473.97 1015.84,1474.44 1022.07,1475.06C1028.29,1475.69 1034.52,1477.71 1040.74,1478.24C1046.97,1478.77 1053.20,1479.17 1059.42,1478.24C1065.65,1477.31 1072.00,1474.66 1078.10,1472.64C1084.20,1470.61 1087.68,1467.99 1096.00,1466.10C1104.32,1464.21 1119.45,1462.37 1128.00,1461.30C1136.55,1460.23 1141.95,1460.50 1147.30,1459.70C1152.65,1458.90 1155.30,1459.17 1160.10,1456.50C1164.90,1453.83 1170.77,1448.77 1176.10,1443.70C1181.43,1438.63 1186.77,1431.97 1192.10,1426.10C1197.43,1420.23 1202.77,1413.83 1208.10,1408.50C1213.43,1403.17 1218.22,1398.53 1224.10,1394.10C1229.98,1389.67 1235.92,1384.68 1243.40,1381.90C1250.88,1379.12 1260.47,1377.40 1269.00,1377.40C1277.53,1377.40 1288.20,1379.38 1294.60,1381.90C1301.00,1384.42 1298.17,1386.15 1307.40,1392.50C1316.63,1398.85 1331.23,1405.42 1350.00,1420.00C1368.77,1434.58 1401.99,1456.67 1420.00,1480.00C1438.01,1503.33 1448.85,1542.02 1458.08,1559.96C1467.30,1577.89 1472.13,1581.85 1475.36,1587.61C1478.59,1593.37 1477.09,1593.37 1477.43,1594.52" stroke="#000000" stroke-width="4.6" fill="none" stroke-linecap="butt" stroke-linejoin="round" clip-path="url(#cp5)"/>
<path d="M101.87,1434.35C106.23,1435.90 119.92,1441.60 128.02,1443.69C136.11,1445.77 142.65,1446.71 150.43,1446.86C158.21,1447.02 165.99,1446.39 174.71,1444.62C183.43,1442.84 193.39,1439.79 202.73,1436.21C212.07,1432.63 221.40,1428.12 230.74,1423.14C240.08,1418.16 249.42,1412.24 258.76,1406.33C268.10,1400.42 278.06,1392.94 286.78,1387.65C295.49,1382.36 303.27,1378.47 311.06,1374.58C318.84,1370.69 325.07,1368.20 333.47,1364.31C341.88,1360.41 355.40,1353.88 361.49,1351.23C367.58,1348.59 365.47,1349.83 370.00,1348.43C374.53,1347.03 380.90,1345.01 388.68,1342.83C396.46,1340.65 407.36,1337.29 416.69,1335.36C426.03,1333.43 433.82,1332.55 444.71,1331.25C455.61,1329.94 469.61,1328.38 482.07,1327.51C494.52,1326.64 506.97,1326.20 519.42,1326.02C531.87,1325.83 544.32,1326.23 556.78,1326.39C569.23,1326.55 581.68,1326.70 594.13,1326.95C606.58,1327.20 623.84,1327.73 631.49,1327.88C639.13,1328.04 632.36,1327.51 640.00,1327.88C647.64,1328.26 664.90,1329.50 677.36,1330.13C689.81,1330.75 702.26,1331.12 714.71,1331.62C727.16,1332.12 739.61,1332.55 752.07,1333.11C764.52,1333.67 776.97,1334.61 789.42,1334.98C801.87,1335.36 814.32,1335.20 826.78,1335.36C839.23,1335.51 851.68,1335.73 864.13,1335.92C876.58,1336.10 893.84,1336.41 901.49,1336.48C909.13,1336.54 899.24,1336.16 910.00,1336.29C920.76,1336.41 947.36,1337.13 966.03,1337.22C984.71,1337.32 1006.50,1336.85 1022.07,1336.85C1037.63,1336.85 1046.97,1336.85 1059.42,1337.22C1071.87,1337.60 1087.44,1338.41 1096.78,1339.09C1106.12,1339.78 1109.23,1340.55 1115.45,1341.33C1121.68,1342.11 1127.91,1342.89 1134.13,1343.76C1140.36,1344.63 1146.58,1345.47 1152.81,1346.56C1159.03,1347.65 1163.62,1348.55 1171.49,1350.30C1179.35,1352.04 1191.92,1353.74 1200.01,1357.04C1208.10,1360.33 1215.02,1366.21 1220.02,1370.04C1225.03,1373.88 1226.69,1376.71 1230.03,1380.05C1233.37,1383.38 1236.70,1387.05 1240.04,1390.06C1243.37,1393.06 1246.71,1396.56 1250.04,1398.06C1253.38,1399.56 1256.38,1399.56 1260.05,1399.06C1263.72,1398.56 1268.05,1397.06 1272.06,1395.06C1276.06,1393.06 1280.06,1390.06 1284.06,1387.05C1288.06,1384.05 1292.07,1380.05 1296.07,1377.05C1300.07,1374.05 1304.07,1371.04 1308.08,1369.04C1312.08,1367.04 1314.75,1365.87 1320.08,1365.04C1325.42,1364.21 1330.11,1360.71 1340.10,1364.04C1350.08,1367.37 1365.02,1379.01 1380.00,1385.00C1394.98,1390.99 1415.60,1394.35 1430.00,1400.00C1444.40,1405.65 1458.12,1414.03 1466.37,1418.92C1474.62,1423.80 1477.32,1427.56 1479.51,1429.29" stroke="#000000" stroke-width="4.6" fill="none" stroke-linecap="round" stroke-linejoin="round" stroke-dasharray="10.40 8.80 0.00 8.80" clip-path="url(#cp5)"/>
<path d="M104.11,1362.44C109.65,1362.53 125.59,1362.69 137.36,1363.00C149.12,1363.31 162.26,1363.56 174.71,1364.31C187.16,1365.05 199.61,1366.08 212.07,1367.48C224.52,1368.88 236.97,1370.34 249.42,1372.71C261.87,1375.08 277.44,1378.87 286.78,1381.68C296.12,1384.48 299.23,1386.97 305.45,1389.52C311.68,1392.07 317.91,1394.81 324.13,1396.99C330.36,1399.17 336.58,1401.04 342.81,1402.59C349.03,1404.15 356.95,1405.40 361.49,1406.33C366.02,1407.26 363.91,1407.73 370.00,1408.20C376.09,1408.66 388.68,1409.91 398.02,1409.13C407.36,1408.35 416.69,1406.02 426.03,1403.53C435.37,1401.04 444.71,1397.46 454.05,1394.19C463.39,1390.92 472.73,1387.19 482.07,1383.92C491.40,1380.65 500.74,1377.38 510.08,1374.58C519.42,1371.78 528.76,1369.60 538.10,1367.11C547.44,1364.62 556.78,1361.82 566.12,1359.64C575.45,1357.46 584.79,1355.59 594.13,1354.03C603.47,1352.48 614.50,1351.48 622.15,1350.30C629.79,1349.11 630.80,1348.09 640.00,1346.94C649.20,1345.78 664.90,1344.45 677.36,1343.39C689.81,1342.33 702.26,1341.46 714.71,1340.58C727.16,1339.71 742.73,1338.78 752.07,1338.16C761.40,1337.53 764.52,1337.25 770.74,1336.85C776.97,1336.44 780.08,1335.92 789.42,1335.73C798.76,1335.54 814.32,1335.64 826.78,1335.73C839.23,1335.82 851.68,1336.10 864.13,1336.29C876.58,1336.48 893.84,1336.85 901.49,1336.85C909.13,1336.85 902.36,1336.23 910.00,1336.29C917.64,1336.35 938.02,1336.91 947.36,1337.22C956.69,1337.53 958.25,1337.38 966.03,1338.16C973.82,1338.94 984.71,1340.65 994.05,1341.89C1003.39,1343.14 1012.73,1344.07 1022.07,1345.63C1031.40,1347.18 1040.74,1349.21 1050.08,1351.23C1059.42,1353.25 1068.76,1355.43 1078.10,1357.77C1087.44,1360.10 1096.78,1362.59 1106.12,1365.24C1115.45,1367.89 1126.35,1371.15 1134.13,1373.64C1141.91,1376.13 1146.58,1377.85 1152.81,1380.18C1159.03,1382.52 1163.62,1382.50 1171.49,1387.65C1179.35,1392.80 1193.59,1406.00 1200.01,1411.07C1206.43,1416.14 1206.68,1415.57 1210.02,1418.07C1213.35,1420.57 1216.36,1423.41 1220.02,1426.08C1223.69,1428.75 1228.70,1432.58 1232.03,1434.08C1235.37,1435.58 1237.37,1435.25 1240.04,1435.08C1242.70,1434.92 1244.71,1434.75 1248.04,1433.08C1251.38,1431.41 1256.38,1427.58 1260.05,1425.08C1263.72,1422.57 1266.05,1420.74 1270.05,1418.07C1274.06,1415.40 1279.73,1411.90 1284.06,1409.07C1288.40,1406.23 1292.07,1403.56 1296.07,1401.06C1300.07,1398.56 1299.09,1395.90 1308.08,1394.06C1317.07,1392.21 1331.35,1382.34 1350.00,1390.00C1368.65,1397.66 1401.07,1425.04 1420.00,1440.00C1438.93,1454.96 1454.49,1471.75 1463.61,1479.76C1472.72,1487.77 1471.44,1485.52 1474.67,1488.05C1477.89,1490.59 1481.58,1493.81 1482.96,1494.97" stroke="#000000" stroke-width="4.6" fill="none" stroke-linecap="butt" stroke-linejoin="round" stroke-dasharray="14.70 14.70" clip-path="url(#cp5)"/>
<path d="M104.11,1344.69C112.76,1344.63 138.04,1344.48 156.03,1344.32C174.03,1344.16 196.50,1343.76 212.07,1343.76C227.63,1343.76 236.97,1343.92 249.42,1344.32C261.87,1344.73 277.44,1345.57 286.78,1346.19C296.12,1346.81 299.23,1347.37 305.45,1348.06C311.68,1348.74 317.91,1349.46 324.13,1350.30C330.36,1351.14 336.58,1352.17 342.81,1353.10C349.03,1354.03 356.95,1355.12 361.49,1355.90C366.02,1356.68 362.36,1355.90 370.00,1357.77C377.64,1359.64 394.90,1363.68 407.36,1367.11C419.81,1370.53 432.26,1374.27 444.71,1378.31C457.16,1382.36 469.61,1386.72 482.07,1391.39C494.52,1396.06 506.97,1401.04 519.42,1406.33C531.87,1411.62 546.68,1419.06 556.78,1423.14C566.87,1427.22 570.13,1427.32 580.00,1430.80C589.87,1434.28 604.00,1439.60 616.00,1444.00C628.00,1448.40 639.98,1453.20 652.00,1457.20C664.02,1461.20 676.08,1464.00 688.10,1468.00C700.12,1472.00 712.12,1476.80 724.10,1481.20C736.08,1485.60 752.23,1491.62 760.00,1494.40C767.77,1497.18 765.84,1496.19 770.74,1497.85C775.65,1499.52 783.20,1502.21 789.42,1504.39C795.65,1506.57 801.87,1509.37 808.10,1510.92C814.32,1512.48 822.11,1513.42 826.78,1513.73C831.45,1514.04 833.00,1513.73 836.12,1512.79C839.23,1511.86 840.78,1510.30 845.45,1508.12C850.12,1505.94 857.91,1502.99 864.13,1499.72C870.36,1496.45 876.58,1492.56 882.81,1488.51C889.03,1484.46 893.84,1481.04 901.49,1475.44C909.13,1469.83 921.03,1460.81 928.68,1454.89C936.32,1448.98 941.13,1444.62 947.36,1439.95C953.58,1435.28 959.81,1430.92 966.03,1426.88C972.26,1422.83 978.48,1419.09 984.71,1415.67C990.94,1412.24 997.16,1409.13 1003.39,1406.33C1009.61,1403.53 1015.84,1401.66 1022.07,1398.86C1028.29,1396.06 1034.52,1392.63 1040.74,1389.52C1046.97,1386.41 1053.20,1383.29 1059.42,1380.18C1065.65,1377.07 1071.87,1373.33 1078.10,1370.84C1084.32,1368.35 1090.55,1367.42 1096.78,1365.24C1103.00,1363.06 1109.23,1360.10 1115.45,1357.77C1121.68,1355.43 1127.91,1353.25 1134.13,1351.23C1140.36,1349.21 1146.58,1347.65 1152.81,1345.63C1159.03,1343.60 1165.29,1340.69 1171.49,1339.09C1177.69,1337.49 1185.25,1337.03 1190.01,1336.02C1194.76,1335.01 1195.01,1334.19 1200.01,1333.02C1205.02,1331.85 1213.35,1329.92 1220.02,1329.02C1226.69,1328.12 1233.37,1327.45 1240.04,1327.62C1246.71,1327.78 1253.38,1328.95 1260.05,1330.02C1266.72,1331.09 1273.39,1333.02 1280.06,1334.02C1286.73,1335.02 1295.07,1335.76 1300.07,1336.02C1305.08,1336.29 1306.74,1336.12 1310.08,1335.62C1313.41,1335.12 1315.08,1334.29 1320.08,1333.02C1325.09,1331.75 1333.43,1329.69 1340.10,1328.02C1346.77,1326.35 1353.44,1324.52 1360.11,1323.02C1366.78,1321.51 1373.45,1320.11 1380.12,1319.01C1386.79,1317.91 1393.46,1317.08 1400.13,1316.41C1406.80,1315.74 1413.47,1315.48 1420.14,1315.01C1426.81,1314.54 1433.49,1314.11 1440.16,1313.61C1446.83,1313.11 1453.66,1312.54 1460.17,1312.01C1466.67,1311.47 1476.01,1310.67 1479.18,1310.41" stroke="#000000" stroke-width="4.6" fill="none" stroke-linecap="butt" stroke-linejoin="round" stroke-dasharray="3.63 3.72" clip-path="url(#cp5)"/>
<path d="M104.40,1589.50v-14M104.40,1305.90v14M333.40,1589.50v-14M333.40,1305.90v14M562.40,1589.50v-14M562.40,1305.90v14M791.40,1589.50v-14M791.40,1305.90v14M1020.40,1589.50v-14M1020.40,1305.90v14M1249.40,1589.50v-14M1249.40,1305.90v14M1478.40,1589.50v-14M1478.40,1305.90v14M104.40,1589.50h14M1478.40,1589.50h-14M104.40,1494.97h14M1478.40,1494.97h-14M104.40,1400.43h14M1478.40,1400.43h-14M104.40,1305.90h14M1478.40,1305.90h-14" stroke="#262626" stroke-width="1.3" fill="none"/>
<rect x="104.40" y="1305.90" width="1374.00" height="283.60" stroke="#262626" stroke-width="1.3" fill="none"/>
<path d="M768.50,1306.60V1494.97H814.30V1306.60" stroke="#e8131b" stroke-width="1.4" fill="none"/>
<text x="45.05" y="1601.20" font-size="34.6" style="" fill="#1a1a1a" textLength="44.52" lengthAdjust="spacingAndGlyphs">-30</text>
<text x="48.65" y="1506.67" font-size="34.6" style="" fill="#1a1a1a" textLength="40.81" lengthAdjust="spacingAndGlyphs">-20</text>
<text x="50.20" y="1412.13" font-size="34.6" style="" fill="#1a1a1a" textLength="39.22" lengthAdjust="spacingAndGlyphs">-10</text>
<text x="71.43" y="1317.60" font-size="34.6" style="" fill="#1a1a1a" textLength="18.24" lengthAdjust="spacingAndGlyphs">0</text>
<text x="83.14" y="1633.70" font-size="34.6" style="" fill="#1a1a1a" textLength="40.87" lengthAdjust="spacingAndGlyphs">0.6</text>
<text x="312.26" y="1633.70" font-size="34.6" style="" fill="#1a1a1a" textLength="40.87" lengthAdjust="spacingAndGlyphs">0.8</text>
<text x="553.08" y="1633.70" font-size="34.6" style="" fill="#1a1a1a" textLength="16.35" lengthAdjust="spacingAndGlyphs">1</text>
<text x="769.73" y="1633.70" font-size="34.6" style="" fill="#1a1a1a" textLength="40.87" lengthAdjust="spacingAndGlyphs">1.2</text>
<text x="998.08" y="1633.70" font-size="34.6" style="" fill="#1a1a1a" textLength="40.87" lengthAdjust="spacingAndGlyphs">1.4</text>
<text x="1227.32" y="1633.70" font-size="34.6" style="" fill="#1a1a1a" textLength="40.87" lengthAdjust="spacingAndGlyphs">1.6</text>
<text x="1456.45" y="1633.70" font-size="34.6" style="" fill="#1a1a1a" textLength="40.87" lengthAdjust="spacingAndGlyphs">1.8</text>
<text x="657.88" y="1679.10" font-size="38.5" style="" fill="#1a1a1a" textLength="263.34" lengthAdjust="spacingAndGlyphs">Frequency [GHz]</text>
<text transform="translate(30.80,1448.90) rotate(-90)" x="-136.61" y="0" font-size="38.5" style="" fill="#1a1a1a" textLength="273.44" lengthAdjust="spacingAndGlyphs">S-parameters [dB]</text>
<rect x="1309.1" y="1367.6" width="149.10" height="205.00" fill="#fff" stroke="#262626" stroke-width="1.3"/>
<path d="M1316.30,1395.70L1385.40,1395.70" stroke="#000000" stroke-width="4.6" fill="none" stroke-linecap="butt" stroke-linejoin="round" stroke-dasharray="3.63 3.72"/>
<path d="M1397.80,1379.30v28M1445.80,1379.30v28" stroke="#111" stroke-width="1.5"/>
<text x="1401.66" y="1400.40" font-size="31" style="font-style:italic;" fill="#1a1a1a" textLength="17.66" lengthAdjust="spacingAndGlyphs">S</text>
<text x="1419.60" y="1415.30" font-size="24.8" style="" fill="#1a1a1a" textLength="19.85" lengthAdjust="spacingAndGlyphs">11</text>
<path d="M1316.30,1445.30L1389.30,1445.30" stroke="#000000" stroke-width="4.6" fill="none" stroke-linecap="butt" stroke-linejoin="round" stroke-dasharray="12.67 12.25"/>
<path d="M1397.80,1428.90v28M1445.80,1428.90v28" stroke="#111" stroke-width="1.5"/>
<text x="1401.66" y="1450.00" font-size="31" style="font-style:italic;" fill="#1a1a1a" textLength="17.66" lengthAdjust="spacingAndGlyphs">S</text>
<text x="1420.56" y="1464.90" font-size="24.8" style="" fill="#1a1a1a" textLength="18.77" lengthAdjust="spacingAndGlyphs">21</text>
<path d="M1316.30,1494.90L1389.30,1494.90" stroke="#000000" stroke-width="4.6" fill="none" stroke-linecap="butt" stroke-linejoin="round" stroke-dasharray="12.67 12.25"/>
<path d="M1397.80,1478.50v28M1445.80,1478.50v28" stroke="#111" stroke-width="1.5"/>
<text x="1401.66" y="1499.60" font-size="31" style="font-style:italic;" fill="#1a1a1a" textLength="17.66" lengthAdjust="spacingAndGlyphs">S</text>
<text x="1420.51" y="1514.50" font-size="24.8" style="" fill="#1a1a1a" textLength="18.82" lengthAdjust="spacingAndGlyphs">31</text>
<path d="M1316.30,1544.50L1389.30,1544.50" stroke="#000000" stroke-width="4.6" fill="none" stroke-linecap="butt" stroke-linejoin="round"/>
<path d="M1397.80,1528.10v28M1445.80,1528.10v28" stroke="#111" stroke-width="1.5"/>
<text x="1401.66" y="1549.20" font-size="31" style="font-style:italic;" fill="#1a1a1a" textLength="17.66" lengthAdjust="spacingAndGlyphs">S</text>
<text x="1421.03" y="1564.10" font-size="24.8" style="" fill="#1a1a1a" textLength="18.26" lengthAdjust="spacingAndGlyphs">41</text>
<path d="M213.95,850.00V1126.00M348.65,850.00V1126.00M483.35,850.00V1126.00M618.05,850.00V1126.00M146.60,1070.80H685.40M146.60,1015.60H685.40M146.60,960.40H685.40M146.60,905.20H685.40" stroke="#dddddd" stroke-width="1.5" fill="none"/>
<path d="M213.95,1126.00v-5.5M213.95,850.00v5.5M348.65,1126.00v-5.5M348.65,850.00v5.5M483.35,1126.00v-5.5M483.35,850.00v5.5M618.05,1126.00v-5.5M618.05,850.00v5.5M146.60,1126.00h5.5M685.40,1126.00h-5.5M146.60,1070.80h5.5M685.40,1070.80h-5.5M146.60,1015.60h5.5M685.40,1015.60h-5.5M146.60,960.40h5.5M685.40,960.40h-5.5M146.60,905.20h5.5M685.40,905.20h-5.5M146.60,850.00h5.5M685.40,850.00h-5.5" stroke="#262626" stroke-width="1.3" fill="none"/>
<rect x="146.60" y="850.00" width="538.80" height="276.00" stroke="#262626" stroke-width="1.3" fill="none"/>
<polyline points="146.60,870.42 213.95,1016.15 281.30,1031.61 348.65,1044.86 416.00,1058.27 483.35,1061.64 550.70,1066.38 618.05,1067.82 685.40,1067.82" fill="none" stroke="#000" stroke-width="4.2" stroke-linejoin="round"/>
<circle cx="146.60" cy="870.42" r="6.3" fill="none" stroke="#000" stroke-width="4.2"/>
<circle cx="213.95" cy="1016.15" r="6.3" fill="none" stroke="#000" stroke-width="4.2"/>
<circle cx="281.30" cy="1031.61" r="6.3" fill="none" stroke="#000" stroke-width="4.2"/>
<circle cx="348.65" cy="1044.86" r="6.3" fill="none" stroke="#000" stroke-width="4.2"/>
<circle cx="416.00" cy="1058.27" r="6.3" fill="none" stroke="#000" stroke-width="4.2"/>
<circle cx="483.35" cy="1061.64" r="6.3" fill="none" stroke="#000" stroke-width="4.2"/>
<circle cx="550.70" cy="1066.38" r="6.3" fill="none" stroke="#000" stroke-width="4.2"/>
<circle cx="618.05" cy="1067.82" r="6.3" fill="none" stroke="#000" stroke-width="4.2"/>
<circle cx="685.40" cy="1067.82" r="6.3" fill="none" stroke="#000" stroke-width="4.2"/>
<text x="75.31" y="1136.00" font-size="29.6" style="" fill="#1a1a1a">1000</text>
<text x="76.42" y="1080.80" font-size="29.6" style="" fill="#1a1a1a">1100</text>
<text x="75.31" y="1025.60" font-size="29.6" style="" fill="#1a1a1a">1200</text>
<text x="75.31" y="970.40" font-size="29.6" style="" fill="#1a1a1a">1300</text>
<text x="75.31" y="915.20" font-size="29.6" style="" fill="#1a1a1a">1400</text>
<text x="75.31" y="860.00" font-size="29.6" style="" fill="#1a1a1a">1500</text>
<text x="205.70" y="1165.80" font-size="29.6" style="" fill="#1a1a1a">2</text>
<text x="340.18" y="1165.80" font-size="29.6" style="" fill="#1a1a1a">4</text>
<text x="474.77" y="1165.80" font-size="29.6" style="" fill="#1a1a1a">6</text>
<text x="609.65" y="1165.80" font-size="29.6" style="" fill="#1a1a1a">8</text>
<text x="308.53" y="1205.00" font-size="33.5" fill="#1a1a1a" textLength="196.49" lengthAdjust="spacingAndGlyphs">Iteration index</text>
<text x="513.40" y="1205.00" font-size="33.5" fill="#1a1a1a" style="font-style:italic">i</text>
<g transform="translate(60.70,1118.00) rotate(-90)" fill="#1a1a1a">
<text x="-1.35" y="0" font-size="33.5" textLength="226.89" lengthAdjust="spacingAndGlyphs">Circuit size [mm</text>
<text x="229.81" y="-16" font-size="26.5">2</text>
<text x="243.43" y="0" font-size="33.5">]</text>
</g>
<path d="M932.16,850.00V1126.00M1074.69,850.00V1126.00M1217.21,850.00V1126.00M1359.74,850.00V1126.00M860.90,1100.91H1431.00M860.90,975.45H1431.00" stroke="#dddddd" stroke-width="1.5" fill="none"/>
<polyline points="860.90,1100.91 932.16,994.52 1003.42,1004.06 1074.69,977.46 1145.95,1022.37 1217.21,1100.91 1288.47,1100.91 1359.74,1100.91 1431.00,1100.91" fill="none" stroke="#000" stroke-width="4.2" stroke-dasharray="13 8" stroke-linejoin="round"/>
<circle cx="860.90" cy="1100.91" r="6.2" fill="#000"/>
<circle cx="932.16" cy="994.52" r="6.2" fill="#000"/>
<circle cx="1003.42" cy="1004.06" r="6.2" fill="#000"/>
<circle cx="1074.69" cy="977.46" r="6.2" fill="#000"/>
<circle cx="1145.95" cy="1022.37" r="6.2" fill="#000"/>
<circle cx="1217.21" cy="1100.91" r="6.2" fill="#000"/>
<circle cx="1288.47" cy="1100.91" r="6.2" fill="#000"/>
<circle cx="1359.74" cy="1100.91" r="6.2" fill="#000"/>
<circle cx="1431.00" cy="1100.91" r="6.2" fill="#000"/>
<polyline points="860.90,1100.91 932.16,1087.61 1003.42,1100.91 1074.69,1100.91 1145.95,1100.91 1217.21,1100.91 1288.47,1100.91 1359.74,1100.91 1431.00,1100.91" fill="none" stroke="#000" stroke-width="4.2" stroke-linejoin="round"/>
<circle cx="860.90" cy="1100.91" r="6.3" fill="none" stroke="#000" stroke-width="4.2"/>
<circle cx="932.16" cy="1087.61" r="6.3" fill="none" stroke="#000" stroke-width="4.2"/>
<circle cx="1003.42" cy="1100.91" r="6.3" fill="none" stroke="#000" stroke-width="4.2"/>
<circle cx="1074.69" cy="1100.91" r="6.3" fill="none" stroke="#000" stroke-width="4.2"/>
<circle cx="1145.95" cy="1100.91" r="6.3" fill="none" stroke="#000" stroke-width="4.2"/>
<circle cx="1217.21" cy="1100.91" r="6.3" fill="none" stroke="#000" stroke-width="4.2"/>
<circle cx="1288.47" cy="1100.91" r="6.3" fill="none" stroke="#000" stroke-width="4.2"/>
<circle cx="1359.74" cy="1100.91" r="6.3" fill="none" stroke="#000" stroke-width="4.2"/>
<circle cx="1431.00" cy="1100.91" r="6.3" fill="none" stroke="#000" stroke-width="4.2"/>
<path d="M860.90,1100.91H1431.00" stroke="#ff0000" stroke-width="1.3"/>
<path d="M932.16,1126.00v-5.5M932.16,850.00v5.5M1074.69,1126.00v-5.5M1074.69,850.00v5.5M1217.21,1126.00v-5.5M1217.21,850.00v5.5M1359.74,1126.00v-5.5M1359.74,850.00v5.5M860.90,1100.91h5.5M1431.00,1100.91h-5.5M860.90,975.45h5.5M1431.00,975.45h-5.5M860.90,850.00h5.5M1431.00,850.00h-5.5" stroke="#262626" stroke-width="1.3" fill="none"/>
<rect x="860.90" y="850.00" width="570.10" height="276.00" stroke="#262626" stroke-width="1.3" fill="none"/>
<text x="834.11" y="1110.91" font-size="29.6" style="" fill="#1a1a1a">0</text>
<text x="811.98" y="985.45" font-size="29.6" style="" fill="#1a1a1a">0.5</text>
<text x="834.78" y="860.00" font-size="29.6" style="" fill="#1a1a1a">1</text>
<text x="923.91" y="1165.80" font-size="29.6" style="" fill="#1a1a1a">2</text>
<text x="1066.21" y="1165.80" font-size="29.6" style="" fill="#1a1a1a">4</text>
<text x="1208.63" y="1165.80" font-size="29.6" style="" fill="#1a1a1a">6</text>
<text x="1351.34" y="1165.80" font-size="29.6" style="" fill="#1a1a1a">8</text>
<text x="1037.82" y="1205.00" font-size="33.5" fill="#1a1a1a" textLength="197.42" lengthAdjust="spacingAndGlyphs">Iteration index</text>
<text x="1243.66" y="1205.00" font-size="33.5" fill="#1a1a1a" style="font-style:italic">i</text>
<text transform="translate(798.50,987.75) rotate(-90)" x="-136.77" y="0" font-size="33.5" style="" fill="#1a1a1a" textLength="274.63" lengthAdjust="spacingAndGlyphs">Constraint viol. [dB]</text>
<rect x="1182.6" y="865.10" width="230.20" height="95.30" fill="#fff" stroke="#262626" stroke-width="1.3"/>
<path d="M1189.10,890.10H1253.30" stroke="#000" stroke-width="4.2"/>
<circle cx="1221.30" cy="890.10" r="6.3" fill="none" stroke="#000" stroke-width="4.2"/>
<path d="M1189.10,935.10H1201.70M1240.80,935.10H1253.30" stroke="#000" stroke-width="4.2"/>
<circle cx="1221.30" cy="935.10" r="6.2" fill="#000"/>
<text x="1258.72" y="895.80" font-size="27.3" style="" fill="#1a1a1a" textLength="112.79" lengthAdjust="spacingAndGlyphs">Constraint</text>
<text x="1379.60" y="895.80" font-size="27.4" style="font-style:italic;" fill="#1a1a1a">g</text>
<text x="1395.29" y="908.40" font-size="19.5" style="" fill="#1a1a1a">1</text>
<text x="1258.72" y="940.80" font-size="27.3" style="" fill="#1a1a1a" textLength="112.79" lengthAdjust="spacingAndGlyphs">Constraint</text>
<text x="1379.60" y="940.80" font-size="27.4" style="font-style:italic;" fill="#1a1a1a">g</text>
<text x="1396.12" y="953.40" font-size="19.5" style="" fill="#1a1a1a">2</text>
<path d="M213.95,1722.60V1999.20M348.65,1722.60V1999.20M483.35,1722.60V1999.20M618.05,1722.60V1999.20M146.60,1943.88H685.40M146.60,1888.56H685.40M146.60,1833.24H685.40M146.60,1777.92H685.40" stroke="#dddddd" stroke-width="1.5" fill="none"/>
<path d="M213.95,1999.20v-5.5M213.95,1722.60v5.5M348.65,1999.20v-5.5M348.65,1722.60v5.5M483.35,1999.20v-5.5M483.35,1722.60v5.5M618.05,1999.20v-5.5M618.05,1722.60v5.5M146.60,1999.20h5.5M685.40,1999.20h-5.5M146.60,1943.88h5.5M685.40,1943.88h-5.5M146.60,1888.56h5.5M685.40,1888.56h-5.5M146.60,1833.24h5.5M685.40,1833.24h-5.5M146.60,1777.92h5.5M685.40,1777.92h-5.5M146.60,1722.60h5.5M685.40,1722.60h-5.5" stroke="#262626" stroke-width="1.3" fill="none"/>
<rect x="146.60" y="1722.60" width="538.80" height="276.60" stroke="#262626" stroke-width="1.3" fill="none"/>
<polyline points="146.60,1743.18 213.95,1900.29 281.30,1926.23 348.65,1934.92 416.00,1940.62 483.35,1959.81 550.70,1963.24 618.05,1975.19 685.40,1974.69" fill="none" stroke="#000" stroke-width="4.2" stroke-linejoin="round"/>
<circle cx="146.60" cy="1743.18" r="6.3" fill="none" stroke="#000" stroke-width="4.2"/>
<circle cx="213.95" cy="1900.29" r="6.3" fill="none" stroke="#000" stroke-width="4.2"/>
<circle cx="281.30" cy="1926.23" r="6.3" fill="none" stroke="#000" stroke-width="4.2"/>
<circle cx="348.65" cy="1934.92" r="6.3" fill="none" stroke="#000" stroke-width="4.2"/>
<circle cx="416.00" cy="1940.62" r="6.3" fill="none" stroke="#000" stroke-width="4.2"/>
<circle cx="483.35" cy="1959.81" r="6.3" fill="none" stroke="#000" stroke-width="4.2"/>
<circle cx="550.70" cy="1963.24" r="6.3" fill="none" stroke="#000" stroke-width="4.2"/>
<circle cx="618.05" cy="1975.19" r="6.3" fill="none" stroke="#000" stroke-width="4.2"/>
<circle cx="685.40" cy="1974.69" r="6.3" fill="none" stroke="#000" stroke-width="4.2"/>
<text x="75.31" y="2009.20" font-size="29.6" style="" fill="#1a1a1a">1000</text>
<text x="76.42" y="1953.88" font-size="29.6" style="" fill="#1a1a1a">1100</text>
<text x="75.31" y="1898.56" font-size="29.6" style="" fill="#1a1a1a">1200</text>
<text x="75.31" y="1843.24" font-size="29.6" style="" fill="#1a1a1a">1300</text>
<text x="75.31" y="1787.92" font-size="29.6" style="" fill="#1a1a1a">1400</text>
<text x="75.31" y="1732.60" font-size="29.6" style="" fill="#1a1a1a">1500</text>
<text x="205.70" y="2039.00" font-size="29.6" style="" fill="#1a1a1a">2</text>
<text x="340.18" y="2039.00" font-size="29.6" style="" fill="#1a1a1a">4</text>
<text x="474.77" y="2039.00" font-size="29.6" style="" fill="#1a1a1a">6</text>
<text x="609.65" y="2039.00" font-size="29.6" style="" fill="#1a1a1a">8</text>
<text x="308.53" y="2078.20" font-size="33.5" fill="#1a1a1a" textLength="196.49" lengthAdjust="spacingAndGlyphs">Iteration index</text>
<text x="513.40" y="2078.20" font-size="33.5" fill="#1a1a1a" style="font-style:italic">i</text>
<g transform="translate(60.70,1990.60) rotate(-90)" fill="#1a1a1a">
<text x="-1.35" y="0" font-size="33.5" textLength="226.89" lengthAdjust="spacingAndGlyphs">Circuit size [mm</text>
<text x="229.81" y="-16" font-size="26.5">2</text>
<text x="243.43" y="0" font-size="33.5">]</text>
</g>
<path d="M932.16,1722.60V1999.20M1074.69,1722.60V1999.20M1217.21,1722.60V1999.20M1359.74,1722.60V1999.20M860.90,1974.05H1431.00M860.90,1848.33H1431.00" stroke="#dddddd" stroke-width="1.5" fill="none"/>
<polyline points="860.90,1948.91 932.16,1898.62 1003.42,1974.05 1074.69,1948.91 1145.95,1974.05 1217.21,1974.05 1288.47,1974.05 1359.74,1911.44 1431.00,1966.51" fill="none" stroke="#000" stroke-width="4.2" stroke-dasharray="13 8" stroke-linejoin="round"/>
<circle cx="860.90" cy="1948.91" r="6.2" fill="#000"/>
<circle cx="932.16" cy="1898.62" r="6.2" fill="#000"/>
<circle cx="1003.42" cy="1974.05" r="6.2" fill="#000"/>
<circle cx="1074.69" cy="1948.91" r="6.2" fill="#000"/>
<circle cx="1145.95" cy="1974.05" r="6.2" fill="#000"/>
<circle cx="1217.21" cy="1974.05" r="6.2" fill="#000"/>
<circle cx="1288.47" cy="1974.05" r="6.2" fill="#000"/>
<circle cx="1359.74" cy="1911.44" r="6.2" fill="#000"/>
<circle cx="1431.00" cy="1966.51" r="6.2" fill="#000"/>
<polyline points="860.90,1972.55 932.16,1961.98 1003.42,1965.76 1074.69,1974.05 1145.95,1974.05 1217.21,1934.07 1288.47,1974.05 1359.74,1950.92 1431.00,1965.76" fill="none" stroke="#000" stroke-width="4.2" stroke-linejoin="round"/>
<circle cx="860.90" cy="1972.55" r="6.3" fill="none" stroke="#000" stroke-width="4.2"/>
<circle cx="932.16" cy="1961.98" r="6.3" fill="none" stroke="#000" stroke-width="4.2"/>
<circle cx="1003.42" cy="1965.76" r="6.3" fill="none" stroke="#000" stroke-width="4.2"/>
<circle cx="1074.69" cy="1974.05" r="6.3" fill="none" stroke="#000" stroke-width="4.2"/>
<circle cx="1145.95" cy="1974.05" r="6.3" fill="none" stroke="#000" stroke-width="4.2"/>
<circle cx="1217.21" cy="1934.07" r="6.3" fill="none" stroke="#000" stroke-width="4.2"/>
<circle cx="1288.47" cy="1974.05" r="6.3" fill="none" stroke="#000" stroke-width="4.2"/>
<circle cx="1359.74" cy="1950.92" r="6.3" fill="none" stroke="#000" stroke-width="4.2"/>
<circle cx="1431.00" cy="1965.76" r="6.3" fill="none" stroke="#000" stroke-width="4.2"/>
<path d="M860.90,1974.05H1431.00" stroke="#ff0000" stroke-width="1.3"/>
<path d="M932.16,1999.20v-5.5M932.16,1722.60v5.5M1074.69,1999.20v-5.5M1074.69,1722.60v5.5M1217.21,1999.20v-5.5M1217.21,1722.60v5.5M1359.74,1999.20v-5.5M1359.74,1722.60v5.5M860.90,1974.05h5.5M1431.00,1974.05h-5.5M860.90,1848.33h5.5M1431.00,1848.33h-5.5M860.90,1722.60h5.5M1431.00,1722.60h-5.5" stroke="#262626" stroke-width="1.3" fill="none"/>
<rect x="860.90" y="1722.60" width="570.10" height="276.60" stroke="#262626" stroke-width="1.3" fill="none"/>
<text x="834.11" y="1984.05" font-size="29.6" style="" fill="#1a1a1a">0</text>
<text x="811.98" y="1858.33" font-size="29.6" style="" fill="#1a1a1a">0.5</text>
<text x="834.78" y="1732.60" font-size="29.6" style="" fill="#1a1a1a">1</text>
<text x="923.91" y="2039.00" font-size="29.6" style="" fill="#1a1a1a">2</text>
<text x="1066.21" y="2039.00" font-size="29.6" style="" fill="#1a1a1a">4</text>
<text x="1208.63" y="2039.00" font-size="29.6" style="" fill="#1a1a1a">6</text>
<text x="1351.34" y="2039.00" font-size="29.6" style="" fill="#1a1a1a">8</text>
<text x="1037.82" y="2078.20" font-size="33.5" fill="#1a1a1a" textLength="197.42" lengthAdjust="spacingAndGlyphs">Iteration index</text>
<text x="1243.66" y="2078.20" font-size="33.5" fill="#1a1a1a" style="font-style:italic">i</text>
<text transform="translate(798.50,1860.35) rotate(-90)" x="-136.77" y="0" font-size="33.5" style="" fill="#1a1a1a" textLength="274.63" lengthAdjust="spacingAndGlyphs">Constraint viol. [dB]</text>
<rect x="1182.6" y="1737.70" width="230.20" height="95.30" fill="#fff" stroke="#262626" stroke-width="1.3"/>
<path d="M1189.10,1762.70H1253.30" stroke="#000" stroke-width="4.2"/>
<circle cx="1221.30" cy="1762.70" r="6.3" fill="none" stroke="#000" stroke-width="4.2"/>
<path d="M1189.10,1807.70H1201.70M1240.80,1807.70H1253.30" stroke="#000" stroke-width="4.2"/>
<circle cx="1221.30" cy="1807.70" r="6.2" fill="#000"/>
<text x="1258.72" y="1768.40" font-size="27.3" style="" fill="#1a1a1a" textLength="112.79" lengthAdjust="spacingAndGlyphs">Constraint</text>
<text x="1379.60" y="1768.40" font-size="27.4" style="font-style:italic;" fill="#1a1a1a">g</text>
<text x="1395.29" y="1781.00" font-size="19.5" style="" fill="#1a1a1a">1</text>
<text x="1258.72" y="1813.40" font-size="27.3" style="" fill="#1a1a1a" textLength="112.79" lengthAdjust="spacingAndGlyphs">Constraint</text>
<text x="1379.60" y="1813.40" font-size="27.4" style="font-style:italic;" fill="#1a1a1a">g</text>
<text x="1396.12" y="1826.00" font-size="19.5" style="" fill="#1a1a1a">2</text>
<text x="733.91" y="1260.00" font-size="45" style="" fill="#1a1a1a" textLength="51.67" lengthAdjust="spacingAndGlyphs">(a)</text>
<text x="731.87" y="2107.50" font-size="45" style="" fill="#1a1a1a" textLength="55.19" lengthAdjust="spacingAndGlyphs">(b)</text>
</svg></body></html>
